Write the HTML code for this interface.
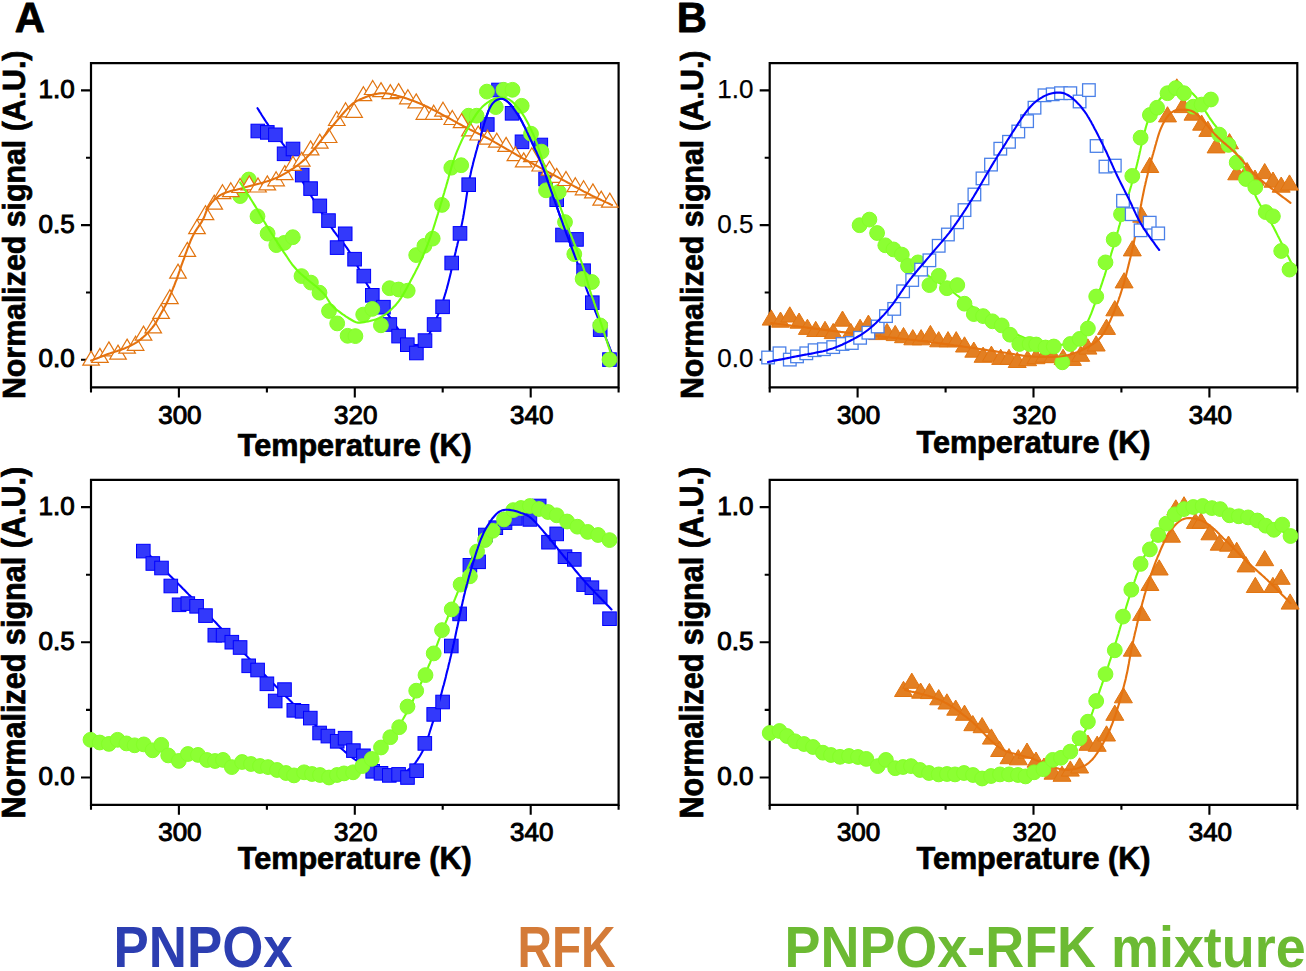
<!DOCTYPE html>
<html><head><meta charset="utf-8"><style>
html,body{margin:0;padding:0;background:#fff;width:1306px;height:971px;overflow:hidden}
svg{display:block}
text{font-family:"Liberation Sans",sans-serif}
.tk{font-size:26px;font-weight:normal;fill:#000;stroke:#000;stroke-width:1.0px}
.xl{font-size:30.6px;font-weight:bold;fill:#000;stroke:#000;stroke-width:0.7px}
.yl{font-size:30.2px;font-weight:bold;fill:#000;stroke:#000;stroke-width:0.7px}
.pl{font-size:41.8px;font-weight:bold;fill:#000;stroke:#000;stroke-width:0.8px}
.lg{font-size:57.5px;font-weight:bold}
</style></head><body>
<svg width="1306" height="971" viewBox="0 0 1306 971"><rect width="1306" height="971" fill="#fff"/><text x="14.8" y="32.2" class="pl" style="stroke-linejoin:round">A</text><text x="676.8" y="32.2" class="pl" style="stroke-linejoin:round">B</text><path d="M91.0,63.2H618.6V387.4H91.0Z" fill="none" stroke="#000" stroke-width="2.2"/><text x="179.9" y="423.7" text-anchor="middle" class="tk">300</text><text x="355.8" y="423.7" text-anchor="middle" class="tk">320</text><text x="531.7" y="423.7" text-anchor="middle" class="tk">340</text><text x="74.7" y="367.4" text-anchor="end" class="tk">0.0</text><text x="74.7" y="232.7" text-anchor="end" class="tk">0.5</text><text x="74.7" y="98.0" text-anchor="end" class="tk">1.0</text><path d="M91.0,387.4V392.4M178.9,387.4V397.4M266.9,387.4V392.4M354.8,387.4V397.4M442.7,387.4V392.4M530.7,387.4V397.4M618.6,387.4V392.4M91.0,359.8H81.0M91.0,292.5H86.0M91.0,225.1H81.0M91.0,157.8H86.0M91.0,90.4H81.0" stroke="#000" stroke-width="2.1" fill="none"/><text x="354.8" y="456.0" text-anchor="middle" class="xl">Temperature (K)</text><text transform="translate(24.7,224.8) rotate(-90) scale(1,1.06)" text-anchor="middle" class="yl" style="font-size:30.3px">Normalized signal (A.U.)</text><path d="M769.7,63.2H1297.3V387.4H769.7Z" fill="none" stroke="#000" stroke-width="2.2"/><text x="858.6" y="423.7" text-anchor="middle" class="tk">300</text><text x="1034.5" y="423.7" text-anchor="middle" class="tk">320</text><text x="1210.4" y="423.7" text-anchor="middle" class="tk">340</text><text x="753.4" y="367.4" text-anchor="end" class="tk" style="stroke-width:0.25px">0.0</text><text x="753.4" y="232.7" text-anchor="end" class="tk" style="stroke-width:0.25px">0.5</text><text x="753.4" y="98.0" text-anchor="end" class="tk" style="stroke-width:0.25px">1.0</text><path d="M769.7,387.4V392.4M857.6,387.4V397.4M945.6,387.4V392.4M1033.5,387.4V397.4M1121.4,387.4V392.4M1209.4,387.4V397.4M1297.3,387.4V392.4M769.7,359.8H759.7M769.7,292.5H764.7M769.7,225.1H759.7M769.7,157.8H764.7M769.7,90.4H759.7" stroke="#000" stroke-width="2.1" fill="none"/><text x="1033.5" y="452.6" text-anchor="middle" class="xl">Temperature (K)</text><text transform="translate(703.4,224.8) rotate(-90) scale(1,1.06)" text-anchor="middle" class="yl" style="font-size:30.3px">Normalized signal (A.U.)</text><path d="M91.0,479.8H618.6V804.8H91.0Z" fill="none" stroke="#000" stroke-width="2.2"/><text x="179.9" y="841.1" text-anchor="middle" class="tk">300</text><text x="355.8" y="841.1" text-anchor="middle" class="tk">320</text><text x="531.7" y="841.1" text-anchor="middle" class="tk">340</text><text x="74.7" y="785.1" text-anchor="end" class="tk">0.0</text><text x="74.7" y="649.9" text-anchor="end" class="tk">0.5</text><text x="74.7" y="514.7" text-anchor="end" class="tk">1.0</text><path d="M91.0,804.8V809.8M178.9,804.8V814.8M266.9,804.8V809.8M354.8,804.8V814.8M442.7,804.8V809.8M530.7,804.8V814.8M618.6,804.8V809.8M91.0,777.5H81.0M91.0,709.9H86.0M91.0,642.3H81.0M91.0,574.7H86.0M91.0,507.1H81.0" stroke="#000" stroke-width="2.1" fill="none"/><text x="354.8" y="868.7" text-anchor="middle" class="xl">Temperature (K)</text><text transform="translate(24.7,642.6) rotate(-90) scale(1,1.06)" text-anchor="middle" class="yl" style="font-size:30.6px">Normalized signal (A.U.)</text><path d="M769.7,479.8H1297.3V804.8H769.7Z" fill="none" stroke="#000" stroke-width="2.2"/><text x="858.6" y="841.1" text-anchor="middle" class="tk">300</text><text x="1034.5" y="841.1" text-anchor="middle" class="tk">320</text><text x="1210.4" y="841.1" text-anchor="middle" class="tk">340</text><text x="753.4" y="785.1" text-anchor="end" class="tk">0.0</text><text x="753.4" y="649.9" text-anchor="end" class="tk">0.5</text><text x="753.4" y="514.7" text-anchor="end" class="tk">1.0</text><path d="M769.7,804.8V809.8M857.6,804.8V814.8M945.6,804.8V809.8M1033.5,804.8V814.8M1121.4,804.8V809.8M1209.4,804.8V814.8M1297.3,804.8V809.8M769.7,777.5H759.7M769.7,709.9H764.7M769.7,642.3H759.7M769.7,574.7H764.7M769.7,507.1H759.7" stroke="#000" stroke-width="2.1" fill="none"/><text x="1033.5" y="869.1" text-anchor="middle" class="xl">Temperature (K)</text><text transform="translate(703.4,642.6) rotate(-90) scale(1,1.06)" text-anchor="middle" class="yl" style="font-size:30.6px">Normalized signal (A.U.)</text><path d="M257.5,108.2 L258.6,109.9 L259.6,111.6 L260.7,113.3 L261.7,115.0 L262.8,116.7 L263.9,118.4 L265.0,120.1 L266.1,121.8 L267.2,123.4 L268.3,125.1 L269.5,126.7 L270.7,128.3 L271.9,129.9 L273.1,131.5 L274.4,133.0 L275.7,134.6 L276.9,136.2 L278.2,137.7 L279.4,139.3 L280.6,140.9 L281.9,142.5 L283.0,144.1 L284.2,145.7 L285.2,147.4 L286.2,149.2 L287.2,150.9 L288.0,152.8 L288.7,154.6 L289.5,156.5 L290.2,158.4 L290.9,160.2 L291.7,162.0 L292.6,163.9 L293.5,165.6 L294.4,167.4 L295.4,169.2 L296.4,170.9 L297.4,172.7 L298.4,174.4 L299.4,176.1 L300.4,177.9 L301.4,179.6 L302.4,181.3 L303.4,183.1 L304.5,184.8 L305.5,186.5 L306.5,188.2 L307.5,189.9 L308.6,191.7 L309.6,193.4 L310.7,195.1 L311.7,196.8 L312.8,198.5 L313.8,200.2 L314.9,201.9 L315.9,203.6 L317.0,205.3 L318.0,207.0 L319.1,208.7 L320.2,210.4 L321.2,212.1 L322.3,213.8 L323.4,215.5 L324.5,217.2 L325.6,218.8 L326.7,220.5 L327.8,222.2 L328.9,223.9 L330.0,225.5 L331.1,227.2 L332.3,228.8 L333.4,230.5 L334.6,232.1 L335.8,233.7 L337.0,235.3 L338.3,236.9 L339.5,238.4 L340.8,240.0 L342.0,241.6 L343.3,243.1 L344.5,244.7 L345.7,246.3 L346.9,247.9 L348.0,249.6 L349.1,251.3 L350.2,253.0 L351.2,254.7 L352.2,256.4 L353.2,258.2 L354.1,259.9 L355.1,261.7 L356.0,263.5 L356.9,265.3 L357.9,267.0 L358.8,268.8 L359.7,270.6 L360.6,272.4 L361.5,274.2 L362.4,276.0 L363.4,277.7 L364.3,279.5 L365.3,281.2 L366.3,283.0 L367.3,284.7 L368.3,286.4 L369.4,288.1 L370.5,289.8 L371.6,291.5 L372.7,293.2 L373.8,294.8 L374.9,296.5 L376.1,298.1 L377.2,299.8 L378.4,301.4 L379.6,303.0 L380.7,304.7 L381.9,306.3 L383.1,307.9 L384.3,309.5 L385.4,311.1 L386.6,312.8 L387.8,314.4 L389.0,316.0 L390.2,317.6 L391.3,319.3 L392.5,320.9 L393.6,322.5 L394.8,324.2 L395.9,325.8 L397.1,327.5 L398.2,329.1 L399.4,330.7 L400.6,332.4 L401.8,334.0 L403.0,335.5 L404.3,337.1 L405.6,338.6 L407.0,340.1 L408.4,341.4 L410.0,342.7 L411.6,343.7 L413.4,344.5 L415.3,345.0 L417.2,345.0 L419.1,344.6 L420.8,343.7 L422.3,342.5 L423.7,341.1 L425.1,339.6 L426.3,338.1 L427.5,336.5 L428.6,334.8 L429.7,333.1 L430.7,331.4 L431.6,329.6 L432.5,327.8 L433.4,326.0 L434.2,324.2 L435.0,322.3 L435.8,320.5 L436.5,318.6 L437.2,316.7 L438.0,314.9 L438.7,313.0 L439.4,311.1 L440.1,309.2 L440.7,307.4 L441.4,305.5 L442.1,303.6 L442.7,301.7 L443.4,299.8 L444.0,297.9 L444.6,296.0 L445.2,294.0 L445.8,292.1 L446.3,290.2 L446.9,288.3 L447.4,286.3 L447.9,284.4 L448.4,282.5 L448.9,280.5 L449.4,278.6 L449.9,276.6 L450.3,274.7 L450.8,272.7 L451.2,270.8 L451.7,268.8 L452.1,266.9 L452.6,264.9 L453.0,263.0 L453.5,261.0 L453.9,259.1 L454.4,257.1 L454.9,255.1 L455.3,253.2 L455.8,251.2 L456.2,249.3 L456.7,247.3 L457.2,245.4 L457.6,243.4 L458.1,241.5 L458.5,239.5 L459.0,237.6 L459.4,235.6 L459.8,233.7 L460.3,231.7 L460.7,229.8 L461.1,227.8 L461.5,225.8 L461.9,223.9 L462.3,221.9 L462.7,219.9 L463.1,218.0 L463.4,216.0 L463.8,214.0 L464.1,212.0 L464.4,210.1 L464.8,208.1 L465.1,206.1 L465.4,204.1 L465.7,202.1 L466.0,200.2 L466.3,198.2 L466.6,196.2 L466.9,194.2 L467.2,192.2 L467.5,190.3 L467.8,188.3 L468.2,186.3 L468.5,184.3 L468.9,182.4 L469.2,180.4 L469.6,178.4 L470.0,176.5 L470.5,174.5 L470.9,172.5 L471.3,170.6 L471.8,168.6 L472.3,166.7 L472.8,164.7 L473.2,162.8 L473.7,160.9 L474.2,158.9 L474.8,157.0 L475.3,155.0 L475.8,153.1 L476.3,151.2 L476.9,149.2 L477.4,147.3 L477.9,145.4 L478.5,143.5 L479.0,141.5 L479.6,139.6 L480.1,137.7 L480.7,135.7 L481.2,133.8 L481.8,131.9 L482.3,130.0 L482.9,128.0 L483.5,126.1 L484.0,124.2 L484.6,122.3 L485.2,120.4 L485.8,118.5 L486.5,116.5 L487.1,114.7 L487.8,112.8 L488.5,110.9 L489.3,109.1 L490.2,107.3 L491.2,105.5 L492.3,103.9 L493.6,102.4 L495.0,101.1 L496.7,100.0 L498.5,99.2 L500.4,98.8 L502.2,98.8 L504.1,99.3 L505.8,100.3 L507.3,101.5 L508.8,102.8 L510.2,104.3 L511.5,105.8 L512.7,107.4 L513.9,109.0 L515.1,110.6 L516.2,112.3 L517.3,113.9 L518.4,115.6 L519.5,117.3 L520.5,119.1 L521.4,120.8 L522.4,122.6 L523.3,124.4 L524.2,126.1 L525.1,127.9 L526.0,129.7 L526.8,131.6 L527.7,133.4 L528.5,135.2 L529.4,137.0 L530.2,138.8 L531.1,140.6 L531.9,142.4 L532.8,144.3 L533.7,146.1 L534.5,147.9 L535.3,149.7 L536.2,151.5 L537.0,153.4 L537.8,155.2 L538.6,157.0 L539.4,158.9 L540.2,160.7 L540.9,162.6 L541.7,164.4 L542.4,166.3 L543.1,168.2 L543.8,170.0 L544.5,171.9 L545.2,173.8 L545.8,175.7 L546.5,177.6 L547.1,179.5 L547.8,181.4 L548.4,183.3 L549.1,185.2 L549.8,187.1 L550.5,189.0 L551.1,190.9 L551.8,192.7 L552.5,194.6 L553.1,196.5 L553.8,198.4 L554.5,200.3 L555.1,202.2 L555.8,204.1 L556.5,206.0 L557.2,207.9 L557.8,209.7 L558.5,211.6 L559.2,213.5 L559.8,215.4 L560.5,217.3 L561.2,219.2 L561.9,221.1 L562.6,223.0 L563.2,224.8 L563.9,226.7 L564.6,228.6 L565.3,230.5 L566.0,232.4 L566.7,234.3 L567.4,236.1 L568.1,238.0 L568.8,239.9 L569.5,241.8 L570.2,243.6 L570.9,245.5 L571.6,247.4 L572.3,249.3 L573.0,251.2 L573.7,253.0 L574.4,254.9 L575.1,256.8 L575.8,258.7 L576.5,260.6 L577.2,262.4 L577.8,264.3 L578.5,266.2 L579.2,268.1 L579.9,270.0 L580.5,271.9 L581.2,273.8 L581.9,275.7 L582.5,277.5 L583.2,279.4 L583.8,281.3 L584.5,283.2 L585.2,285.1 L585.8,287.0 L586.5,288.9 L587.2,290.8 L587.9,292.7 L588.6,294.5 L589.4,296.4 L590.1,298.3 L590.8,300.1 L591.6,302.0 L592.3,303.8 L593.1,305.7 L593.8,307.6 L594.6,309.4 L595.3,311.3 L596.0,313.1 L596.8,315.0 L597.5,316.9 L598.2,318.7 L599.0,320.6 L599.7,322.5 L600.5,324.3 L601.2,326.2 L601.9,328.1 L602.7,329.9 L603.4,331.8 L604.1,333.7 L604.9,335.5 L605.6,337.4 L606.3,339.2 L607.1,341.1 L607.8,343.0 L608.6,344.8 L609.3,346.7 L610.0,348.6 L610.8,350.4 L611.5,352.3 L611.5,352.3" fill="none" stroke="#0000ff" stroke-width="2.1" stroke-linecap="round" stroke-linejoin="round"/><g fill="#3339fb" stroke="#0000ff" stroke-width="1.0"><rect x="251.0" y="124.2" width="13.6" height="13.6"/><rect x="260.5" y="125.6" width="13.6" height="13.6"/><rect x="268.6" y="128.0" width="13.6" height="13.6"/><rect x="277.3" y="147.0" width="13.6" height="13.6"/><rect x="286.2" y="142.2" width="13.6" height="13.6"/><rect x="295.4" y="168.3" width="13.6" height="13.6"/><rect x="303.8" y="181.8" width="13.6" height="13.6"/><rect x="313.0" y="199.1" width="13.6" height="13.6"/><rect x="321.7" y="213.8" width="13.6" height="13.6"/><rect x="330.3" y="240.8" width="13.6" height="13.6"/><rect x="338.4" y="227.0" width="13.6" height="13.6"/><rect x="347.8" y="252.4" width="13.6" height="13.6"/><rect x="357.0" y="269.3" width="13.6" height="13.6"/><rect x="365.5" y="288.5" width="13.6" height="13.6"/><rect x="376.6" y="300.4" width="13.6" height="13.6"/><rect x="383.0" y="317.7" width="13.6" height="13.6"/><rect x="391.8" y="329.3" width="13.6" height="13.6"/><rect x="400.5" y="337.9" width="13.6" height="13.6"/><rect x="409.6" y="346.2" width="13.6" height="13.6"/><rect x="418.2" y="333.8" width="13.6" height="13.6"/><rect x="427.3" y="317.7" width="13.6" height="13.6"/><rect x="435.8" y="300.0" width="13.6" height="13.6"/><rect x="444.9" y="256.2" width="13.6" height="13.6"/><rect x="453.2" y="226.6" width="13.6" height="13.6"/><rect x="461.9" y="177.9" width="13.6" height="13.6"/><rect x="480.5" y="117.7" width="13.6" height="13.6"/><rect x="491.7" y="83.2" width="13.6" height="13.6"/><rect x="505.3" y="106.5" width="13.6" height="13.6"/><rect x="515.2" y="135.0" width="13.6" height="13.6"/><rect x="534.0" y="138.2" width="13.6" height="13.6"/><rect x="538.8" y="172.2" width="13.6" height="13.6"/><rect x="549.9" y="192.9" width="13.6" height="13.6"/><rect x="555.7" y="228.2" width="13.6" height="13.6"/><rect x="569.7" y="232.6" width="13.6" height="13.6"/><rect x="576.8" y="263.9" width="13.6" height="13.6"/><rect x="585.5" y="295.9" width="13.6" height="13.6"/><rect x="593.4" y="322.8" width="13.6" height="13.6"/><rect x="602.7" y="352.8" width="13.6" height="13.6"/></g><g fill="#8cff33" stroke="#84ff28" stroke-width="1"><circle cx="248.8" cy="179.5" r="7.4"/><circle cx="240.2" cy="196.1" r="7.4"/><circle cx="257.5" cy="216.3" r="7.4"/><circle cx="267.6" cy="233.6" r="7.4"/><circle cx="276.3" cy="245.1" r="7.4"/><circle cx="284.2" cy="242.9" r="7.4"/><circle cx="292.8" cy="237.2" r="7.4"/><circle cx="301.5" cy="276.1" r="7.4"/><circle cx="310.9" cy="282.6" r="7.4"/><circle cx="319.5" cy="292.7" r="7.4"/><circle cx="329.0" cy="311.0" r="7.4"/><circle cx="337.2" cy="323.4" r="7.4"/><circle cx="347.6" cy="335.8" r="7.4"/><circle cx="355.4" cy="336.1" r="7.4"/><circle cx="363.2" cy="314.6" r="7.4"/><circle cx="372.3" cy="308.9" r="7.4"/><circle cx="380.9" cy="325.3" r="7.4"/><circle cx="389.6" cy="288.2" r="7.4"/><circle cx="398.6" cy="289.5" r="7.4"/><circle cx="407.7" cy="290.7" r="7.4"/><circle cx="416.2" cy="255.1" r="7.4"/><circle cx="424.4" cy="245.8" r="7.4"/><circle cx="432.7" cy="238.6" r="7.4"/><circle cx="442.0" cy="204.9" r="7.4"/><circle cx="451.3" cy="167.7" r="7.4"/><circle cx="461.2" cy="165.2" r="7.4"/><circle cx="468.6" cy="115.7" r="7.4"/><circle cx="476.6" cy="115.7" r="7.4"/><circle cx="486.9" cy="91.6" r="7.4"/><circle cx="495.8" cy="107.1" r="7.4"/><circle cx="503.5" cy="89.8" r="7.4"/><circle cx="512.5" cy="89.8" r="7.4"/><circle cx="521.7" cy="105.8" r="7.4"/><circle cx="531.0" cy="133.7" r="7.4"/><circle cx="541.5" cy="151.6" r="7.4"/><circle cx="546.0" cy="190.3" r="7.4"/><circle cx="558.8" cy="192.0" r="7.4"/><circle cx="565.0" cy="222.1" r="7.4"/><circle cx="574.3" cy="254.1" r="7.4"/><circle cx="582.6" cy="278.9" r="7.4"/><circle cx="591.9" cy="282.0" r="7.4"/><circle cx="600.2" cy="325.4" r="7.4"/><circle cx="609.5" cy="359.6" r="7.4"/></g><g fill="#fff" stroke="#e2740f" stroke-width="1.2" stroke-linejoin="miter"><path d="M91.1,351.1L99.4,365.1L82.8,365.1Z"/><path d="M99.9,348.4L108.2,362.4L91.6,362.4Z"/><path d="M108.9,341.9L117.2,355.9L100.6,355.9Z"/><path d="M118.0,345.1L126.3,359.1L109.7,359.1Z"/><path d="M127.1,339.1L135.4,353.1L118.8,353.1Z"/><path d="M135.6,336.3L143.9,350.3L127.3,350.3Z"/><path d="M143.5,326.1L151.8,340.1L135.2,340.1Z"/><path d="M153.2,318.9L161.5,332.9L144.9,332.9Z"/><path d="M161.1,304.4L169.4,318.4L152.8,318.4Z"/><path d="M169.9,289.7L178.2,303.7L161.6,303.7Z"/><path d="M178.0,264.1L186.3,278.1L169.7,278.1Z"/><path d="M187.3,242.4L195.6,256.4L179.0,256.4Z"/><path d="M197.0,219.7L205.3,233.7L188.7,233.7Z"/><path d="M205.5,205.7L213.8,219.7L197.2,219.7Z"/><path d="M214.2,195.1L222.5,209.1L205.9,209.1Z"/><path d="M222.5,184.7L230.8,198.7L214.2,198.7Z"/><path d="M230.8,182.7L239.1,196.7L222.5,196.7Z"/><path d="M240.1,178.5L248.4,192.5L231.8,192.5Z"/><path d="M249.3,175.9L257.6,189.9L241.0,189.9Z"/><path d="M258.0,178.0L266.3,192.0L249.7,192.0Z"/><path d="M267.3,175.9L275.6,189.9L259.0,189.9Z"/><path d="M276.1,171.8L284.4,185.8L267.8,185.8Z"/><path d="M284.8,165.6L293.1,179.6L276.5,179.6Z"/><path d="M293.0,156.3L301.3,170.3L284.7,170.3Z"/><path d="M301.8,152.2L310.1,166.2L293.5,166.2Z"/><path d="M310.6,140.9L318.9,154.9L302.3,154.9Z"/><path d="M319.8,134.2L328.1,148.2L311.5,148.2Z"/><path d="M328.6,128.5L336.9,142.5L320.3,142.5Z"/><path d="M336.8,111.5L345.1,125.5L328.5,125.5Z"/><path d="M345.6,102.8L353.9,116.8L337.3,116.8Z"/><path d="M354.1,103.3L362.4,117.3L345.8,117.3Z"/><path d="M363.4,86.7L371.7,100.7L355.1,100.7Z"/><path d="M372.7,80.5L381.0,94.5L364.4,94.5Z"/><path d="M381.0,82.6L389.3,96.6L372.7,96.6Z"/><path d="M390.3,84.6L398.6,98.6L382.0,98.6Z"/><path d="M398.6,83.6L406.9,97.6L390.3,97.6Z"/><path d="M407.9,89.8L416.2,103.8L399.6,103.8Z"/><path d="M416.2,93.9L424.5,107.9L407.9,107.9Z"/><path d="M424.4,105.3L432.7,119.3L416.1,119.3Z"/><path d="M433.7,105.3L442.0,119.3L425.4,119.3Z"/><path d="M443.0,102.2L451.3,116.2L434.7,116.2Z"/><path d="M452.3,110.5L460.6,124.5L444.0,124.5Z"/><path d="M461.6,113.6L469.9,127.6L453.3,127.6Z"/><path d="M469.9,121.9L478.2,135.9L461.6,135.9Z"/><path d="M478.2,126.0L486.5,140.0L469.9,140.0Z"/><path d="M487.5,130.1L495.8,144.1L479.2,144.1Z"/><path d="M496.8,133.2L505.1,147.2L488.5,147.2Z"/><path d="M506.1,137.4L514.4,151.4L497.8,151.4Z"/><path d="M515.4,146.7L523.7,160.7L507.1,160.7Z"/><path d="M523.7,152.9L532.0,166.9L515.4,166.9Z"/><path d="M531.9,147.7L540.2,161.7L523.6,161.7Z"/><path d="M540.2,157.0L548.5,171.0L531.9,171.0Z"/><path d="M549.5,161.1L557.8,175.1L541.2,175.1Z"/><path d="M556.7,168.4L565.0,182.4L548.4,182.4Z"/><path d="M566.0,171.5L574.3,185.5L557.7,185.5Z"/><path d="M575.3,177.7L583.6,191.7L567.0,191.7Z"/><path d="M583.6,180.8L591.9,194.8L575.3,194.8Z"/><path d="M592.9,183.9L601.2,197.9L584.6,197.9Z"/><path d="M601.2,191.1L609.5,205.1L592.9,205.1Z"/><path d="M609.8,193.1L618.1,207.1L601.5,207.1Z"/></g><path d="M91.1,360.6 L93.0,359.9 L94.8,359.1 L96.7,358.4 L98.6,357.7 L100.4,356.9 L102.3,356.2 L104.2,355.5 L106.0,354.8 L107.9,354.1 L109.8,353.4 L111.7,352.8 L113.6,352.2 L115.5,351.6 L117.4,351.0 L119.3,350.3 L121.2,349.7 L123.1,348.9 L124.9,348.2 L126.8,347.4 L128.6,346.6 L130.4,345.7 L132.2,344.8 L134.0,343.9 L135.7,342.9 L137.4,341.8 L139.0,340.6 L140.6,339.4 L142.1,338.1 L143.6,336.8 L145.1,335.4 L146.5,334.0 L147.9,332.6 L149.3,331.1 L150.6,329.6 L151.9,328.1 L153.2,326.5 L154.4,324.9 L155.5,323.3 L156.5,321.6 L157.5,319.8 L158.5,318.1 L159.5,316.3 L160.4,314.6 L161.4,312.8 L162.4,311.1 L163.3,309.3 L164.3,307.6 L165.3,305.8 L166.2,304.0 L167.1,302.2 L168.0,300.4 L168.8,298.6 L169.6,296.8 L170.4,294.9 L171.2,293.1 L171.9,291.2 L172.7,289.4 L173.4,287.5 L174.2,285.7 L174.9,283.8 L175.6,281.9 L176.4,280.1 L177.1,278.2 L177.7,276.3 L178.4,274.4 L179.0,272.5 L179.7,270.6 L180.3,268.7 L181.0,266.8 L181.6,264.9 L182.3,263.1 L183.0,261.2 L183.7,259.3 L184.4,257.4 L185.0,255.5 L185.7,253.6 L186.4,251.8 L187.1,249.9 L187.8,248.0 L188.5,246.1 L189.2,244.3 L190.0,242.4 L190.7,240.5 L191.5,238.7 L192.4,236.9 L193.3,235.1 L194.2,233.3 L195.2,231.6 L196.3,229.9 L197.4,228.2 L198.5,226.6 L199.6,224.9 L200.8,223.3 L201.8,221.6 L202.8,219.8 L203.7,218.0 L204.5,216.2 L205.2,214.3 L205.9,212.4 L206.6,210.6 L207.5,208.8 L208.5,207.0 L209.6,205.4 L210.8,203.8 L212.0,202.2 L213.4,200.8 L214.8,199.3 L216.3,198.0 L217.9,196.8 L219.5,195.6 L221.2,194.6 L223.0,193.7 L224.8,193.0 L226.7,192.3 L228.6,191.7 L230.6,191.1 L232.5,190.6 L234.4,190.1 L236.4,189.7 L238.3,189.2 L240.3,188.7 L242.2,188.2 L244.1,187.6 L246.1,187.1 L248.0,186.6 L249.9,186.1 L251.9,185.6 L253.8,185.1 L255.7,184.5 L257.7,184.0 L259.6,183.5 L261.5,183.0 L263.5,182.4 L265.4,181.8 L267.3,181.3 L269.2,180.7 L271.1,180.0 L273.0,179.3 L274.8,178.6 L276.7,177.8 L278.5,176.9 L280.3,176.0 L282.0,175.1 L283.8,174.1 L285.6,173.1 L287.3,172.1 L289.0,171.1 L290.7,170.0 L292.4,169.0 L294.0,167.8 L295.7,166.7 L297.3,165.5 L298.9,164.3 L300.5,163.0 L302.0,161.7 L303.5,160.4 L305.0,159.1 L306.4,157.7 L307.8,156.3 L309.2,154.8 L310.6,153.3 L311.9,151.8 L313.2,150.3 L314.5,148.8 L315.7,147.2 L317.0,145.6 L318.2,144.0 L319.4,142.5 L320.6,140.9 L321.9,139.3 L323.1,137.7 L324.3,136.1 L325.6,134.6 L326.8,133.0 L328.1,131.4 L329.3,129.9 L330.6,128.3 L331.9,126.8 L333.2,125.3 L334.4,123.7 L335.7,122.2 L337.0,120.6 L338.3,119.1 L339.6,117.6 L340.9,116.0 L342.2,114.5 L343.5,113.0 L344.8,111.5 L346.2,110.0 L347.5,108.5 L348.9,107.1 L350.4,105.7 L351.9,104.4 L353.4,103.1 L355.0,102.0 L356.7,100.9 L358.5,100.1 L360.4,99.2 L362.2,98.5 L364.1,97.7 L365.9,97.0 L367.8,96.3 L369.7,95.7 L371.6,95.1 L373.6,94.5 L375.5,94.1 L377.5,93.7 L379.4,93.4 L381.4,93.3 L383.4,93.3 L385.4,93.3 L387.4,93.5 L389.4,93.8 L391.4,94.2 L393.3,94.7 L395.3,95.1 L397.2,95.7 L399.1,96.2 L401.0,96.7 L403.0,97.3 L404.9,97.9 L406.8,98.6 L408.7,99.2 L410.5,99.9 L412.4,100.6 L414.3,101.3 L416.2,102.0 L418.0,102.8 L419.9,103.5 L421.7,104.3 L423.6,105.1 L425.4,106.0 L427.2,106.8 L429.0,107.7 L430.8,108.6 L432.6,109.5 L434.3,110.4 L436.1,111.3 L437.9,112.3 L439.7,113.2 L441.4,114.2 L443.2,115.1 L445.0,116.1 L446.7,117.0 L448.5,118.0 L450.2,118.9 L452.0,119.9 L453.7,120.9 L455.5,121.8 L457.3,122.8 L459.0,123.8 L460.8,124.7 L462.5,125.7 L464.3,126.6 L466.1,127.5 L467.9,128.4 L469.7,129.4 L471.4,130.2 L473.2,131.1 L475.0,132.0 L476.8,132.9 L478.6,133.8 L480.4,134.6 L482.2,135.5 L484.0,136.4 L485.8,137.3 L487.6,138.2 L489.4,139.2 L491.1,140.1 L492.9,141.1 L494.6,142.1 L496.4,143.1 L498.1,144.1 L499.8,145.1 L501.6,146.1 L503.3,147.1 L505.0,148.1 L506.7,149.2 L508.5,150.2 L510.2,151.2 L511.9,152.2 L513.7,153.2 L515.4,154.2 L517.1,155.2 L518.9,156.1 L520.7,157.1 L522.4,158.1 L524.2,159.0 L525.9,160.0 L527.7,160.9 L529.5,161.9 L531.2,162.9 L533.0,163.8 L534.7,164.8 L536.5,165.7 L538.3,166.7 L540.0,167.6 L541.8,168.6 L543.6,169.5 L545.3,170.5 L547.1,171.4 L548.8,172.4 L550.6,173.3 L552.4,174.3 L554.1,175.2 L555.9,176.2 L557.7,177.1 L559.4,178.1 L561.2,179.0 L562.9,180.0 L564.7,180.9 L566.5,181.9 L568.2,182.9 L570.0,183.8 L571.7,184.8 L573.5,185.8 L575.2,186.8 L577.0,187.7 L578.7,188.7 L580.5,189.7 L582.2,190.6 L584.0,191.6 L585.8,192.5 L587.6,193.4 L589.4,194.3 L591.1,195.2 L592.9,196.1 L594.8,197.0 L596.6,197.8 L598.4,198.7 L600.2,199.5 L602.0,200.4 L603.8,201.2 L605.6,202.1 L607.5,202.9 L609.3,203.7 L611.1,204.6 L612.0,205.0" fill="none" stroke="#e4720f" stroke-width="2.1" stroke-linecap="round" stroke-linejoin="round"/><path d="M240.2,182.4 L241.3,184.1 L242.3,185.8 L243.4,187.5 L244.5,189.2 L245.6,190.9 L246.6,192.5 L247.7,194.2 L248.8,195.9 L249.9,197.6 L250.9,199.3 L252.0,201.0 L253.1,202.7 L254.1,204.4 L255.2,206.1 L256.2,207.8 L257.3,209.5 L258.3,211.3 L259.3,213.0 L260.3,214.8 L261.2,216.5 L262.2,218.2 L263.2,220.0 L264.3,221.7 L265.3,223.4 L266.3,225.1 L267.4,226.8 L268.5,228.5 L269.5,230.2 L270.6,231.9 L271.7,233.6 L272.8,235.3 L273.8,237.0 L274.9,238.7 L276.0,240.3 L277.1,242.0 L278.2,243.7 L279.3,245.4 L280.4,247.1 L281.5,248.7 L282.6,250.4 L283.7,252.1 L284.8,253.7 L286.0,255.4 L287.1,257.0 L288.2,258.7 L289.3,260.4 L290.4,262.0 L291.6,263.7 L292.8,265.3 L294.1,266.8 L295.4,268.3 L296.7,269.8 L298.1,271.3 L299.6,272.7 L301.0,274.0 L302.5,275.3 L304.0,276.6 L305.6,277.9 L307.1,279.2 L308.7,280.5 L310.2,281.7 L311.8,283.0 L313.3,284.3 L314.9,285.5 L316.4,286.8 L318.0,288.1 L319.5,289.4 L320.9,290.8 L322.4,292.2 L323.7,293.6 L325.0,295.2 L326.2,296.8 L327.2,298.5 L328.3,300.2 L329.3,301.9 L330.4,303.6 L331.7,305.1 L333.0,306.6 L334.5,308.0 L336.0,309.3 L337.6,310.5 L339.2,311.7 L340.8,312.9 L342.4,314.1 L344.1,315.2 L345.7,316.3 L347.4,317.4 L349.1,318.5 L350.8,319.5 L352.5,320.5 L354.3,321.5 L356.1,322.2 L358.0,322.6 L360.0,322.6 L361.9,322.4 L363.9,322.1 L365.9,321.7 L367.9,321.4 L369.8,321.0 L371.8,320.5 L373.7,320.0 L375.6,319.4 L377.5,318.7 L379.3,317.9 L381.1,317.0 L382.8,316.0 L384.5,314.9 L386.1,313.8 L387.7,312.5 L389.2,311.2 L390.7,309.9 L392.2,308.5 L393.6,307.1 L395.0,305.7 L396.3,304.2 L397.6,302.6 L398.8,301.1 L400.0,299.4 L401.1,297.8 L402.2,296.1 L403.2,294.4 L404.2,292.6 L405.2,290.9 L406.2,289.1 L407.1,287.4 L408.1,285.6 L409.0,283.8 L410.0,282.1 L410.9,280.3 L411.9,278.5 L412.8,276.8 L413.7,275.0 L414.7,273.2 L415.6,271.4 L416.5,269.6 L417.4,267.9 L418.3,266.1 L419.1,264.3 L420.0,262.4 L420.8,260.6 L421.7,258.8 L422.5,257.0 L423.3,255.1 L424.1,253.3 L424.9,251.4 L425.6,249.6 L426.4,247.7 L427.1,245.9 L427.8,244.0 L428.5,242.1 L429.2,240.2 L429.9,238.4 L430.6,236.5 L431.2,234.6 L431.9,232.7 L432.5,230.8 L433.2,228.9 L433.8,227.0 L434.4,225.1 L435.0,223.2 L435.6,221.3 L436.2,219.3 L436.8,217.4 L437.4,215.5 L438.0,213.6 L438.5,211.7 L439.1,209.8 L439.7,207.8 L440.3,205.9 L440.8,204.0 L441.4,202.1 L442.0,200.2 L442.5,198.2 L443.1,196.3 L443.7,194.4 L444.3,192.5 L444.8,190.5 L445.4,188.6 L446.0,186.7 L446.5,184.8 L447.1,182.9 L447.6,180.9 L448.2,179.0 L448.7,177.1 L449.2,175.1 L449.8,173.2 L450.3,171.3 L450.9,169.4 L451.4,167.4 L452.0,165.5 L452.6,163.6 L453.2,161.7 L453.9,159.8 L454.5,157.9 L455.2,156.0 L455.9,154.1 L456.6,152.3 L457.4,150.4 L458.2,148.6 L459.0,146.7 L459.8,144.9 L460.6,143.1 L461.4,141.3 L462.3,139.4 L463.2,137.6 L464.1,135.8 L465.0,134.1 L465.9,132.3 L466.8,130.5 L467.7,128.7 L468.7,126.9 L469.6,125.2 L470.6,123.4 L471.6,121.7 L472.6,120.0 L473.6,118.3 L474.7,116.6 L475.8,114.9 L477.0,113.2 L478.2,111.6 L479.4,110.1 L480.7,108.6 L482.1,107.1 L483.5,105.7 L485.1,104.4 L486.6,103.2 L488.3,102.1 L490.0,101.0 L491.7,100.0 L493.5,99.2 L495.4,98.6 L497.3,98.1 L499.3,97.9 L501.3,97.8 L503.3,97.9 L505.3,98.1 L507.2,98.6 L509.0,99.4 L510.6,100.5 L512.2,101.7 L513.7,103.1 L515.1,104.5 L516.4,106.0 L517.8,107.5 L519.0,109.0 L520.3,110.6 L521.4,112.2 L522.5,113.9 L523.6,115.6 L524.7,117.3 L525.6,119.0 L526.6,120.8 L527.6,122.6 L528.5,124.3 L529.4,126.1 L530.2,127.9 L531.1,129.7 L531.9,131.6 L532.8,133.4 L533.6,135.2 L534.4,137.1 L535.1,138.9 L535.9,140.8 L536.6,142.6 L537.3,144.5 L538.0,146.4 L538.6,148.3 L539.2,150.2 L539.8,152.1 L540.4,154.0 L541.0,155.9 L541.6,157.9 L542.2,159.8 L542.9,161.7 L543.5,163.6 L544.2,165.4 L544.9,167.3 L545.6,169.2 L546.3,171.1 L547.1,172.9 L547.8,174.8 L548.6,176.6 L549.3,178.5 L550.1,180.4 L550.8,182.2 L551.6,184.1 L552.3,185.9 L553.0,187.8 L553.7,189.7 L554.4,191.6 L555.1,193.4 L555.8,195.3 L556.5,197.2 L557.3,199.1 L558.0,200.9 L558.7,202.8 L559.4,204.7 L560.1,206.6 L560.8,208.4 L561.5,210.3 L562.2,212.2 L562.9,214.1 L563.6,215.9 L564.3,217.8 L565.0,219.7 L565.7,221.6 L566.4,223.4 L567.2,225.3 L567.9,227.2 L568.6,229.1 L569.3,230.9 L570.0,232.8 L570.8,234.7 L571.5,236.5 L572.2,238.4 L573.0,240.2 L573.7,242.1 L574.4,244.0 L575.2,245.8 L575.9,247.7 L576.7,249.6 L577.4,251.4 L578.1,253.3 L578.8,255.2 L579.6,257.0 L580.3,258.9 L581.0,260.8 L581.7,262.7 L582.3,264.6 L583.0,266.5 L583.6,268.4 L584.2,270.3 L584.8,272.2 L585.4,274.1 L585.9,276.0 L586.5,278.0 L587.0,279.9 L587.5,281.8 L588.0,283.8 L588.6,285.7 L589.1,287.6 L589.7,289.5 L590.3,291.5 L590.9,293.4 L591.6,295.3 L592.2,297.1 L592.9,299.0 L593.6,300.9 L594.2,302.8 L594.9,304.7 L595.5,306.6 L596.2,308.5 L596.8,310.4 L597.4,312.3 L598.0,314.2 L598.7,316.1 L599.3,318.0 L599.9,319.9 L600.5,321.8 L601.2,323.7 L601.8,325.6 L602.4,327.5 L603.0,329.4 L603.7,331.3 L604.3,333.3 L604.9,335.2 L605.5,337.1 L606.1,339.0 L606.8,340.9 L607.4,342.8 L608.0,344.7 L608.6,346.6 L609.3,348.5 L609.9,350.4 L610.5,352.3 L610.5,352.3" fill="none" stroke="#70ff10" stroke-width="2.1" stroke-linecap="round" stroke-linejoin="round"/><clipPath id="cTL"><rect x="480" y="60" width="140" height="200"/></clipPath><g clip-path="url(#cTL)"><path d="M257.5,108.2 L258.6,109.9 L259.6,111.6 L260.7,113.3 L261.7,115.0 L262.8,116.7 L263.9,118.4 L265.0,120.1 L266.1,121.8 L267.2,123.4 L268.3,125.1 L269.5,126.7 L270.7,128.3 L271.9,129.9 L273.1,131.5 L274.4,133.0 L275.7,134.6 L276.9,136.2 L278.2,137.7 L279.4,139.3 L280.6,140.9 L281.9,142.5 L283.0,144.1 L284.2,145.7 L285.2,147.4 L286.2,149.2 L287.2,150.9 L288.0,152.8 L288.7,154.6 L289.5,156.5 L290.2,158.4 L290.9,160.2 L291.7,162.0 L292.6,163.9 L293.5,165.6 L294.4,167.4 L295.4,169.2 L296.4,170.9 L297.4,172.7 L298.4,174.4 L299.4,176.1 L300.4,177.9 L301.4,179.6 L302.4,181.3 L303.4,183.1 L304.5,184.8 L305.5,186.5 L306.5,188.2 L307.5,189.9 L308.6,191.7 L309.6,193.4 L310.7,195.1 L311.7,196.8 L312.8,198.5 L313.8,200.2 L314.9,201.9 L315.9,203.6 L317.0,205.3 L318.0,207.0 L319.1,208.7 L320.2,210.4 L321.2,212.1 L322.3,213.8 L323.4,215.5 L324.5,217.2 L325.6,218.8 L326.7,220.5 L327.8,222.2 L328.9,223.9 L330.0,225.5 L331.1,227.2 L332.3,228.8 L333.4,230.5 L334.6,232.1 L335.8,233.7 L337.0,235.3 L338.3,236.9 L339.5,238.4 L340.8,240.0 L342.0,241.6 L343.3,243.1 L344.5,244.7 L345.7,246.3 L346.9,247.9 L348.0,249.6 L349.1,251.3 L350.2,253.0 L351.2,254.7 L352.2,256.4 L353.2,258.2 L354.1,259.9 L355.1,261.7 L356.0,263.5 L356.9,265.3 L357.9,267.0 L358.8,268.8 L359.7,270.6 L360.6,272.4 L361.5,274.2 L362.4,276.0 L363.4,277.7 L364.3,279.5 L365.3,281.2 L366.3,283.0 L367.3,284.7 L368.3,286.4 L369.4,288.1 L370.5,289.8 L371.6,291.5 L372.7,293.2 L373.8,294.8 L374.9,296.5 L376.1,298.1 L377.2,299.8 L378.4,301.4 L379.6,303.0 L380.7,304.7 L381.9,306.3 L383.1,307.9 L384.3,309.5 L385.4,311.1 L386.6,312.8 L387.8,314.4 L389.0,316.0 L390.2,317.6 L391.3,319.3 L392.5,320.9 L393.6,322.5 L394.8,324.2 L395.9,325.8 L397.1,327.5 L398.2,329.1 L399.4,330.7 L400.6,332.4 L401.8,334.0 L403.0,335.5 L404.3,337.1 L405.6,338.6 L407.0,340.1 L408.4,341.4 L410.0,342.7 L411.6,343.7 L413.4,344.5 L415.3,345.0 L417.2,345.0 L419.1,344.6 L420.8,343.7 L422.3,342.5 L423.7,341.1 L425.1,339.6 L426.3,338.1 L427.5,336.5 L428.6,334.8 L429.7,333.1 L430.7,331.4 L431.6,329.6 L432.5,327.8 L433.4,326.0 L434.2,324.2 L435.0,322.3 L435.8,320.5 L436.5,318.6 L437.2,316.7 L438.0,314.9 L438.7,313.0 L439.4,311.1 L440.1,309.2 L440.7,307.4 L441.4,305.5 L442.1,303.6 L442.7,301.7 L443.4,299.8 L444.0,297.9 L444.6,296.0 L445.2,294.0 L445.8,292.1 L446.3,290.2 L446.9,288.3 L447.4,286.3 L447.9,284.4 L448.4,282.5 L448.9,280.5 L449.4,278.6 L449.9,276.6 L450.3,274.7 L450.8,272.7 L451.2,270.8 L451.7,268.8 L452.1,266.9 L452.6,264.9 L453.0,263.0 L453.5,261.0 L453.9,259.1 L454.4,257.1 L454.9,255.1 L455.3,253.2 L455.8,251.2 L456.2,249.3 L456.7,247.3 L457.2,245.4 L457.6,243.4 L458.1,241.5 L458.5,239.5 L459.0,237.6 L459.4,235.6 L459.8,233.7 L460.3,231.7 L460.7,229.8 L461.1,227.8 L461.5,225.8 L461.9,223.9 L462.3,221.9 L462.7,219.9 L463.1,218.0 L463.4,216.0 L463.8,214.0 L464.1,212.0 L464.4,210.1 L464.8,208.1 L465.1,206.1 L465.4,204.1 L465.7,202.1 L466.0,200.2 L466.3,198.2 L466.6,196.2 L466.9,194.2 L467.2,192.2 L467.5,190.3 L467.8,188.3 L468.2,186.3 L468.5,184.3 L468.9,182.4 L469.2,180.4 L469.6,178.4 L470.0,176.5 L470.5,174.5 L470.9,172.5 L471.3,170.6 L471.8,168.6 L472.3,166.7 L472.8,164.7 L473.2,162.8 L473.7,160.9 L474.2,158.9 L474.8,157.0 L475.3,155.0 L475.8,153.1 L476.3,151.2 L476.9,149.2 L477.4,147.3 L477.9,145.4 L478.5,143.5 L479.0,141.5 L479.6,139.6 L480.1,137.7 L480.7,135.7 L481.2,133.8 L481.8,131.9 L482.3,130.0 L482.9,128.0 L483.5,126.1 L484.0,124.2 L484.6,122.3 L485.2,120.4 L485.8,118.5 L486.5,116.5 L487.1,114.7 L487.8,112.8 L488.5,110.9 L489.3,109.1 L490.2,107.3 L491.2,105.5 L492.3,103.9 L493.6,102.4 L495.0,101.1 L496.7,100.0 L498.5,99.2 L500.4,98.8 L502.2,98.8 L504.1,99.3 L505.8,100.3 L507.3,101.5 L508.8,102.8 L510.2,104.3 L511.5,105.8 L512.7,107.4 L513.9,109.0 L515.1,110.6 L516.2,112.3 L517.3,113.9 L518.4,115.6 L519.5,117.3 L520.5,119.1 L521.4,120.8 L522.4,122.6 L523.3,124.4 L524.2,126.1 L525.1,127.9 L526.0,129.7 L526.8,131.6 L527.7,133.4 L528.5,135.2 L529.4,137.0 L530.2,138.8 L531.1,140.6 L531.9,142.4 L532.8,144.3 L533.7,146.1 L534.5,147.9 L535.3,149.7 L536.2,151.5 L537.0,153.4 L537.8,155.2 L538.6,157.0 L539.4,158.9 L540.2,160.7 L540.9,162.6 L541.7,164.4 L542.4,166.3 L543.1,168.2 L543.8,170.0 L544.5,171.9 L545.2,173.8 L545.8,175.7 L546.5,177.6 L547.1,179.5 L547.8,181.4 L548.4,183.3 L549.1,185.2 L549.8,187.1 L550.5,189.0 L551.1,190.9 L551.8,192.7 L552.5,194.6 L553.1,196.5 L553.8,198.4 L554.5,200.3 L555.1,202.2 L555.8,204.1 L556.5,206.0 L557.2,207.9 L557.8,209.7 L558.5,211.6 L559.2,213.5 L559.8,215.4 L560.5,217.3 L561.2,219.2 L561.9,221.1 L562.6,223.0 L563.2,224.8 L563.9,226.7 L564.6,228.6 L565.3,230.5 L566.0,232.4 L566.7,234.3 L567.4,236.1 L568.1,238.0 L568.8,239.9 L569.5,241.8 L570.2,243.6 L570.9,245.5 L571.6,247.4 L572.3,249.3 L573.0,251.2 L573.7,253.0 L574.4,254.9 L575.1,256.8 L575.8,258.7 L576.5,260.6 L577.2,262.4 L577.8,264.3 L578.5,266.2 L579.2,268.1 L579.9,270.0 L580.5,271.9 L581.2,273.8 L581.9,275.7 L582.5,277.5 L583.2,279.4 L583.8,281.3 L584.5,283.2 L585.2,285.1 L585.8,287.0 L586.5,288.9 L587.2,290.8 L587.9,292.7 L588.6,294.5 L589.4,296.4 L590.1,298.3 L590.8,300.1 L591.6,302.0 L592.3,303.8 L593.1,305.7 L593.8,307.6 L594.6,309.4 L595.3,311.3 L596.0,313.1 L596.8,315.0 L597.5,316.9 L598.2,318.7 L599.0,320.6 L599.7,322.5 L600.5,324.3 L601.2,326.2 L601.9,328.1 L602.7,329.9 L603.4,331.8 L604.1,333.7 L604.9,335.5 L605.6,337.4 L606.3,339.2 L607.1,341.1 L607.8,343.0 L608.6,344.8 L609.3,346.7 L610.0,348.6 L610.8,350.4 L611.5,352.3 L611.5,352.3" fill="none" stroke="#0000ff" stroke-width="2.1" stroke-linecap="round" stroke-linejoin="round"/></g><g fill="#e37f22" stroke="#e2740f" stroke-width="1"><path d="M771.2,309.9L780.2,325.1L762.2,325.1Z"/><path d="M780.5,312.0L789.5,327.2L771.5,327.2Z"/><path d="M789.8,306.8L798.8,322.0L780.8,322.0Z"/><path d="M799.1,313.0L808.1,328.2L790.1,328.2Z"/><path d="M807.4,319.2L816.4,334.4L798.4,334.4Z"/><path d="M815.7,321.3L824.7,336.5L806.7,336.5Z"/><path d="M825.0,321.3L834.0,336.5L816.0,336.5Z"/><path d="M833.2,323.4L842.2,338.6L824.2,338.6Z"/><path d="M842.5,311.0L851.5,326.2L833.5,326.2Z"/><path d="M850.8,323.4L859.8,338.6L841.8,338.6Z"/><path d="M860.1,319.2L869.1,334.4L851.1,334.4Z"/><path d="M868.4,315.1L877.4,330.3L859.4,330.3Z"/><path d="M877.7,324.4L886.7,339.6L868.7,339.6Z"/><path d="M887.0,323.4L896.0,338.6L878.0,338.6Z"/><path d="M895.2,325.4L904.2,340.6L886.2,340.6Z"/><path d="M903.5,327.5L912.5,342.7L894.5,342.7Z"/><path d="M912.8,329.6L921.8,344.8L903.8,344.8Z"/><path d="M921.1,329.6L930.1,344.8L912.1,344.8Z"/><path d="M930.4,325.4L939.4,340.6L921.4,340.6Z"/><path d="M938.7,331.6L947.7,346.8L929.7,346.8Z"/><path d="M948.0,331.6L957.0,346.8L939.0,346.8Z"/><path d="M956.2,331.6L965.2,346.8L947.2,346.8Z"/><path d="M964.5,336.8L973.5,352.0L955.5,352.0Z"/><path d="M973.8,342.0L982.8,357.2L964.8,357.2Z"/><path d="M983.1,347.1L992.1,362.3L974.1,362.3Z"/><path d="M991.4,346.1L1000.4,361.3L982.4,361.3Z"/><path d="M1000.7,349.2L1009.7,364.4L991.7,364.4Z"/><path d="M1009.0,349.2L1018.0,364.4L1000.0,364.4Z"/><path d="M1017.2,352.3L1026.2,367.5L1008.2,367.5Z"/><path d="M1027.6,350.5L1036.6,365.7L1018.6,365.7Z"/><path d="M1036.0,348.5L1045.0,363.7L1027.0,363.7Z"/><path d="M1044.5,347.0L1053.5,362.2L1035.5,362.2Z"/><path d="M1053.0,347.5L1062.0,362.7L1044.0,362.7Z"/><path d="M1063.1,349.2L1072.1,364.4L1054.1,364.4Z"/><path d="M1072.4,350.2L1081.4,365.4L1063.4,365.4Z"/><path d="M1080.7,346.1L1089.7,361.3L1071.7,361.3Z"/><path d="M1087.9,338.9L1096.9,354.1L1078.9,354.1Z"/><path d="M1096.2,335.8L1105.2,351.0L1087.2,351.0Z"/><path d="M1106.5,319.2L1115.5,334.4L1097.5,334.4Z"/><path d="M1114.8,300.6L1123.8,315.8L1105.8,315.8Z"/><path d="M1124.1,272.7L1133.1,287.9L1115.1,287.9Z"/><path d="M1132.3,240.7L1141.3,255.9L1123.3,255.9Z"/><path d="M1141.7,207.0L1150.7,222.2L1132.7,222.2Z"/><path d="M1149.8,157.3L1158.8,172.5L1140.8,172.5Z"/><path d="M1167.5,106.7L1176.5,121.9L1158.5,121.9Z"/><path d="M1176.8,78.8L1185.8,94.0L1167.8,94.0Z"/><path d="M1183.0,97.4L1192.0,112.6L1174.0,112.6Z"/><path d="M1193.0,105.0L1202.0,120.2L1184.0,120.2Z"/><path d="M1201.6,115.0L1210.6,130.2L1192.6,130.2Z"/><path d="M1207.8,121.2L1216.8,136.4L1198.8,136.4Z"/><path d="M1216.1,137.7L1225.1,152.9L1207.1,152.9Z"/><path d="M1229.5,133.6L1238.5,148.8L1220.5,148.8Z"/><path d="M1236.7,164.6L1245.7,179.8L1227.7,179.8Z"/><path d="M1247.1,162.5L1256.1,177.7L1238.1,177.7Z"/><path d="M1255.0,170.0L1264.0,185.2L1246.0,185.2Z"/><path d="M1264.7,163.5L1273.7,178.7L1255.7,178.7Z"/><path d="M1273.0,172.0L1282.0,187.2L1264.0,187.2Z"/><path d="M1281.2,177.0L1290.2,192.2L1272.2,192.2Z"/><path d="M1289.5,174.9L1298.5,190.1L1280.5,190.1Z"/></g><path d="M872.0,230.0 L873.3,231.6 L874.5,233.1 L875.8,234.7 L877.0,236.2 L878.3,237.8 L879.6,239.3 L880.9,240.8 L882.3,242.3 L883.7,243.7 L885.2,245.0 L886.8,246.3 L888.4,247.4 L890.1,248.4 L891.9,249.4 L893.6,250.3 L895.4,251.3 L897.2,252.3 L898.9,253.3 L900.5,254.4 L902.1,255.6 L903.7,256.9 L905.2,258.2 L906.8,259.4 L908.3,260.7 L909.8,262.0 L911.4,263.3 L912.9,264.6 L914.5,265.8 L916.1,267.1 L917.7,268.3 L919.3,269.5 L920.9,270.6 L922.5,271.8 L924.2,273.0 L925.8,274.1 L927.5,275.2 L929.1,276.3 L930.8,277.5 L932.5,278.6 L934.2,279.6 L935.9,280.7 L937.5,281.8 L939.2,282.9 L940.9,284.0 L942.6,285.1 L944.3,286.2 L945.9,287.3 L947.6,288.4 L949.3,289.5 L950.9,290.7 L952.5,291.8 L954.1,293.0 L955.7,294.2 L957.3,295.5 L958.9,296.7 L960.5,297.9 L962.1,299.1 L963.7,300.4 L965.3,301.6 L966.9,302.8 L968.5,303.9 L970.1,305.1 L971.8,306.2 L973.4,307.4 L975.1,308.5 L976.7,309.7 L978.3,310.8 L980.0,312.0 L981.6,313.1 L983.3,314.3 L984.9,315.4 L986.6,316.5 L988.3,317.6 L990.0,318.7 L991.6,319.8 L993.3,320.9 L995.0,322.0 L996.7,323.0 L998.4,324.1 L1000.2,325.1 L1001.9,326.1 L1003.6,327.1 L1005.4,328.1 L1007.1,329.1 L1008.8,330.1 L1010.6,331.1 L1012.3,332.0 L1014.1,333.0 L1015.9,333.9 L1017.7,334.8 L1019.5,335.7 L1021.3,336.5 L1023.1,337.3 L1025.0,338.1 L1026.8,338.8 L1028.7,339.5 L1030.6,340.2 L1032.5,340.7 L1034.5,341.3 L1036.4,341.8 L1038.4,342.3 L1040.3,342.7 L1042.3,343.1 L1044.2,343.4 L1046.2,343.7 L1048.2,344.0 L1050.2,344.3 L1052.2,344.5 L1054.2,344.7 L1056.2,344.8 L1058.2,344.9 L1060.2,344.9 L1062.2,344.7 L1064.1,344.4 L1065.9,343.7 L1067.6,342.7 L1069.2,341.6 L1070.8,340.3 L1072.4,339.1 L1074.0,337.9 L1075.6,336.7 L1077.2,335.5 L1078.7,334.2 L1080.2,332.8 L1081.5,331.4 L1082.8,329.8 L1084.0,328.2 L1085.1,326.5 L1086.1,324.8 L1087.0,323.0 L1087.9,321.2 L1088.7,319.4 L1089.5,317.6 L1090.3,315.7 L1091.1,313.9 L1091.8,312.0 L1092.5,310.1 L1093.2,308.2 L1093.9,306.4 L1094.6,304.5 L1095.3,302.6 L1095.9,300.7 L1096.6,298.8 L1097.3,296.9 L1097.9,295.0 L1098.6,293.1 L1099.2,291.2 L1099.9,289.4 L1100.6,287.5 L1101.2,285.6 L1101.9,283.7 L1102.5,281.8 L1103.1,279.9 L1103.7,278.0 L1104.4,276.1 L1105.0,274.1 L1105.6,272.2 L1106.2,270.3 L1106.8,268.4 L1107.4,266.5 L1107.9,264.6 L1108.5,262.7 L1109.1,260.7 L1109.7,258.8 L1110.3,256.9 L1110.9,255.0 L1111.4,253.1 L1112.0,251.2 L1112.6,249.2 L1113.2,247.3 L1113.7,245.4 L1114.3,243.5 L1114.9,241.5 L1115.4,239.6 L1116.0,237.7 L1116.5,235.8 L1117.1,233.8 L1117.6,231.9 L1118.2,230.0 L1118.7,228.0 L1119.2,226.1 L1119.8,224.2 L1120.3,222.3 L1120.9,220.3 L1121.5,218.4 L1122.0,216.5 L1122.6,214.6 L1123.2,212.7 L1123.7,210.7 L1124.3,208.8 L1124.9,206.9 L1125.5,205.0 L1126.0,203.1 L1126.6,201.1 L1127.2,199.2 L1127.8,197.3 L1128.3,195.4 L1128.9,193.5 L1129.5,191.5 L1130.0,189.6 L1130.6,187.7 L1131.2,185.8 L1131.7,183.8 L1132.3,181.9 L1132.8,180.0 L1133.4,178.1 L1133.9,176.1 L1134.5,174.2 L1135.0,172.3 L1135.5,170.3 L1136.0,168.4 L1136.5,166.4 L1137.0,164.5 L1137.5,162.6 L1137.9,160.6 L1138.4,158.7 L1138.8,156.7 L1139.3,154.7 L1139.7,152.8 L1140.2,150.8 L1140.6,148.9 L1141.0,146.9 L1141.5,145.0 L1141.9,143.0 L1142.4,141.1 L1142.8,139.1 L1143.3,137.2 L1143.8,135.2 L1144.3,133.3 L1144.8,131.3 L1145.3,129.4 L1145.8,127.5 L1146.4,125.5 L1147.0,123.6 L1147.6,121.7 L1148.3,119.9 L1149.1,118.0 L1149.8,116.1 L1150.6,114.3 L1151.5,112.5 L1152.4,110.7 L1153.3,108.9 L1154.3,107.2 L1155.4,105.5 L1156.5,103.8 L1157.6,102.2 L1158.8,100.6 L1160.0,99.0 L1161.3,97.5 L1162.7,96.0 L1164.0,94.5 L1165.5,93.1 L1166.9,91.8 L1168.5,90.5 L1170.1,89.3 L1171.8,88.3 L1173.6,87.4 L1175.5,86.8 L1177.4,86.4 L1179.3,86.3 L1181.3,86.5 L1183.2,87.1 L1185.0,87.8 L1186.7,88.8 L1188.4,89.9 L1190.0,91.2 L1191.5,92.5 L1192.9,93.8 L1194.3,95.3 L1195.7,96.7 L1197.0,98.3 L1198.2,99.9 L1199.4,101.5 L1200.5,103.1 L1201.6,104.8 L1202.6,106.5 L1203.7,108.2 L1204.7,110.0 L1205.7,111.7 L1206.8,113.4 L1207.9,115.1 L1208.9,116.8 L1210.0,118.5 L1211.2,120.1 L1212.3,121.7 L1213.5,123.4 L1214.7,124.9 L1216.0,126.5 L1217.2,128.1 L1218.5,129.6 L1219.8,131.2 L1221.0,132.7 L1222.3,134.3 L1223.6,135.8 L1224.8,137.4 L1226.1,139.0 L1227.3,140.5 L1228.5,142.1 L1229.7,143.7 L1230.9,145.4 L1232.1,147.0 L1233.2,148.7 L1234.3,150.3 L1235.4,152.0 L1236.4,153.7 L1237.4,155.5 L1238.3,157.2 L1239.3,159.0 L1240.2,160.8 L1241.1,162.6 L1241.9,164.4 L1242.8,166.2 L1243.6,168.0 L1244.4,169.9 L1245.2,171.7 L1246.0,173.6 L1246.8,175.4 L1247.6,177.2 L1248.4,179.1 L1249.1,180.9 L1249.9,182.8 L1250.7,184.6 L1251.5,186.5 L1252.3,188.3 L1253.0,190.2 L1253.8,192.0 L1254.7,193.8 L1255.5,195.7 L1256.3,197.5 L1257.2,199.3 L1258.1,201.1 L1259.1,202.8 L1260.0,204.6 L1261.0,206.3 L1262.0,208.0 L1263.1,209.7 L1264.2,211.4 L1265.3,213.1 L1266.4,214.8 L1267.4,216.5 L1268.5,218.2 L1269.5,219.9 L1270.5,221.6 L1271.5,223.4 L1272.4,225.2 L1273.4,226.9 L1274.3,228.7 L1275.2,230.5 L1276.1,232.3 L1277.0,234.1 L1277.9,235.9 L1278.8,237.6 L1279.7,239.4 L1280.6,241.2 L1281.5,243.0 L1282.4,244.8 L1283.3,246.6 L1284.2,248.4 L1285.1,250.2 L1286.0,252.0 L1286.8,253.8 L1287.7,255.6 L1288.6,257.4 L1289.5,259.2 L1290.4,261.0 L1291.3,262.8 L1292.2,264.6 L1292.6,265.5" fill="none" stroke="#70ff10" stroke-width="2.1" stroke-linecap="round" stroke-linejoin="round"/><g fill="#8cff33" stroke="#84ff28" stroke-width="1"><circle cx="859.6" cy="225.2" r="7.4"/><circle cx="869.4" cy="219.6" r="7.4"/><circle cx="877.1" cy="233.0" r="7.4"/><circle cx="885.3" cy="245.3" r="7.4"/><circle cx="893.5" cy="249.4" r="7.4"/><circle cx="901.8" cy="254.6" r="7.4"/><circle cx="908.0" cy="265.9" r="7.4"/><circle cx="918.0" cy="262.4" r="7.4"/><circle cx="929.4" cy="285.1" r="7.4"/><circle cx="938.7" cy="275.8" r="7.4"/><circle cx="946.9" cy="288.2" r="7.4"/><circle cx="957.3" cy="285.1" r="7.4"/><circle cx="964.5" cy="303.7" r="7.4"/><circle cx="973.8" cy="314.1" r="7.4"/><circle cx="983.1" cy="316.1" r="7.4"/><circle cx="992.4" cy="321.3" r="7.4"/><circle cx="1001.7" cy="325.4" r="7.4"/><circle cx="1010.0" cy="334.7" r="7.4"/><circle cx="1019.3" cy="344.0" r="7.4"/><circle cx="1029.6" cy="344.0" r="7.4"/><circle cx="1036.2" cy="344.5" r="7.4"/><circle cx="1045.5" cy="347.5" r="7.4"/><circle cx="1053.8" cy="346.5" r="7.4"/><circle cx="1062.3" cy="362.3" r="7.4"/><circle cx="1070.3" cy="344.0" r="7.4"/><circle cx="1079.6" cy="338.9" r="7.4"/><circle cx="1087.9" cy="328.5" r="7.4"/><circle cx="1096.2" cy="296.5" r="7.4"/><circle cx="1105.5" cy="262.4" r="7.4"/><circle cx="1113.7" cy="239.6" r="7.4"/><circle cx="1121.0" cy="214.2" r="7.4"/><circle cx="1132.3" cy="175.9" r="7.4"/><circle cx="1140.6" cy="137.7" r="7.4"/><circle cx="1149.9" cy="115.0" r="7.4"/><circle cx="1157.1" cy="107.7" r="7.4"/><circle cx="1167.5" cy="93.2" r="7.4"/><circle cx="1175.8" cy="88.1" r="7.4"/><circle cx="1184.0" cy="93.2" r="7.4"/><circle cx="1193.3" cy="106.7" r="7.4"/><circle cx="1201.6" cy="104.6" r="7.4"/><circle cx="1210.9" cy="99.5" r="7.4"/><circle cx="1219.2" cy="134.6" r="7.4"/><circle cx="1228.5" cy="144.9" r="7.4"/><circle cx="1236.7" cy="162.5" r="7.4"/><circle cx="1246.0" cy="179.0" r="7.4"/><circle cx="1255.3" cy="187.3" r="7.4"/><circle cx="1265.7" cy="212.1" r="7.4"/><circle cx="1272.9" cy="216.3" r="7.4"/><circle cx="1281.2" cy="251.0" r="7.4"/><circle cx="1289.5" cy="269.6" r="7.4"/></g><path d="M771.0,323.0 L773.0,323.3 L775.0,323.5 L777.0,323.8 L779.0,324.0 L780.9,324.3 L782.9,324.5 L784.9,324.8 L786.9,325.0 L788.9,325.3 L790.9,325.6 L792.9,325.8 L794.9,326.1 L796.8,326.3 L798.8,326.6 L800.8,326.8 L802.8,327.1 L804.8,327.3 L806.8,327.6 L808.8,327.9 L810.8,328.1 L812.7,328.4 L814.7,328.6 L816.7,328.9 L818.7,329.1 L820.7,329.4 L822.7,329.6 L824.7,329.9 L826.7,330.1 L828.7,330.4 L830.6,330.6 L832.6,330.9 L834.6,331.1 L836.6,331.4 L838.6,331.6 L840.6,331.9 L842.6,332.1 L844.6,332.3 L846.6,332.6 L848.6,332.8 L850.5,333.1 L852.5,333.3 L854.5,333.5 L856.5,333.8 L858.5,334.0 L860.5,334.2 L862.5,334.4 L864.5,334.7 L866.5,334.9 L868.5,335.1 L870.5,335.3 L872.4,335.5 L874.4,335.8 L876.4,336.0 L878.4,336.2 L880.4,336.4 L882.4,336.6 L884.4,336.8 L886.4,337.1 L888.4,337.3 L890.4,337.5 L892.4,337.7 L894.4,337.9 L896.4,338.1 L898.4,338.3 L900.3,338.6 L902.3,338.8 L904.3,339.0 L906.3,339.2 L908.3,339.4 L910.3,339.7 L912.3,339.9 L914.3,340.1 L916.3,340.3 L918.3,340.6 L920.3,340.8 L922.3,341.0 L924.2,341.3 L926.2,341.5 L928.2,341.8 L930.2,342.0 L932.2,342.3 L934.2,342.5 L936.2,342.8 L938.2,343.1 L940.2,343.3 L942.1,343.6 L944.1,343.9 L946.1,344.1 L948.1,344.4 L950.1,344.7 L952.1,345.0 L954.0,345.3 L956.0,345.5 L958.0,345.8 L960.0,346.1 L962.0,346.4 L964.0,346.7 L966.0,347.0 L967.9,347.3 L969.9,347.6 L971.9,347.8 L973.9,348.1 L975.9,348.4 L977.9,348.7 L979.8,349.0 L981.8,349.3 L983.8,349.6 L985.8,349.9 L987.8,350.2 L989.7,350.5 L991.7,350.8 L993.7,351.1 L995.7,351.4 L997.7,351.7 L999.7,352.0 L1001.6,352.2 L1003.6,352.5 L1005.6,352.8 L1007.6,353.2 L1009.6,353.5 L1011.5,353.8 L1013.5,354.1 L1015.5,354.5 L1017.5,354.8 L1019.4,355.1 L1021.4,355.4 L1023.4,355.7 L1025.4,356.0 L1027.4,356.2 L1029.4,356.3 L1031.4,356.5 L1033.4,356.6 L1035.4,356.7 L1037.4,356.8 L1039.4,356.9 L1041.4,357.0 L1043.4,357.0 L1045.4,357.0 L1047.4,357.0 L1049.4,357.0 L1051.4,357.0 L1053.4,356.9 L1055.4,356.8 L1057.4,356.7 L1059.4,356.5 L1061.4,356.3 L1063.4,356.0 L1065.4,355.7 L1067.3,355.3 L1069.3,354.8 L1071.2,354.3 L1073.1,353.7 L1075.0,353.0 L1076.9,352.3 L1078.7,351.5 L1080.6,350.7 L1082.4,349.9 L1084.2,349.0 L1086.0,348.1 L1087.7,347.2 L1089.5,346.2 L1091.2,345.2 L1092.9,344.1 L1094.5,342.9 L1096.1,341.7 L1097.6,340.4 L1099.1,339.0 L1100.4,337.5 L1101.7,336.0 L1102.9,334.4 L1104.0,332.7 L1105.0,331.0 L1106.0,329.3 L1107.0,327.5 L1107.9,325.7 L1108.7,323.9 L1109.6,322.1 L1110.4,320.3 L1111.2,318.4 L1112.0,316.6 L1112.8,314.8 L1113.6,312.9 L1114.4,311.1 L1115.1,309.2 L1115.8,307.3 L1116.5,305.4 L1117.2,303.6 L1117.9,301.7 L1118.6,299.8 L1119.2,297.9 L1119.9,296.0 L1120.5,294.1 L1121.1,292.2 L1121.7,290.3 L1122.3,288.4 L1122.9,286.4 L1123.5,284.5 L1124.1,282.6 L1124.6,280.7 L1125.1,278.7 L1125.7,276.8 L1126.2,274.9 L1126.6,272.9 L1127.1,271.0 L1127.6,269.0 L1128.1,267.1 L1128.6,265.1 L1129.0,263.2 L1129.5,261.2 L1130.0,259.3 L1130.5,257.3 L1130.9,255.4 L1131.4,253.5 L1131.9,251.5 L1132.3,249.6 L1132.8,247.6 L1133.2,245.6 L1133.6,243.7 L1134.0,241.7 L1134.4,239.8 L1134.8,237.8 L1135.2,235.8 L1135.6,233.9 L1136.0,231.9 L1136.4,229.9 L1136.8,228.0 L1137.1,226.0 L1137.5,224.0 L1137.9,222.0 L1138.3,220.1 L1138.6,218.1 L1139.0,216.1 L1139.3,214.2 L1139.7,212.2 L1140.1,210.2 L1140.4,208.3 L1140.8,206.3 L1141.2,204.3 L1141.5,202.3 L1141.9,200.4 L1142.3,198.4 L1142.7,196.4 L1143.1,194.5 L1143.5,192.5 L1143.9,190.5 L1144.3,188.6 L1144.7,186.6 L1145.2,184.7 L1145.6,182.7 L1146.1,180.8 L1146.5,178.8 L1147.0,176.9 L1147.5,174.9 L1147.9,173.0 L1148.4,171.0 L1148.9,169.1 L1149.4,167.1 L1149.9,165.2 L1150.5,163.3 L1151.0,161.3 L1151.5,159.4 L1152.1,157.5 L1152.6,155.5 L1153.2,153.6 L1153.7,151.7 L1154.3,149.8 L1154.8,147.8 L1155.3,145.9 L1155.9,144.0 L1156.4,142.0 L1157.0,140.1 L1157.5,138.2 L1158.1,136.3 L1158.7,134.4 L1159.3,132.5 L1160.0,130.6 L1160.8,128.7 L1161.6,126.9 L1162.4,125.1 L1163.3,123.3 L1164.3,121.5 L1165.3,119.8 L1166.4,118.1 L1167.6,116.5 L1168.8,115.0 L1170.2,113.5 L1171.7,112.3 L1173.4,111.3 L1175.2,110.5 L1177.2,110.1 L1179.1,109.9 L1181.1,109.8 L1183.1,109.7 L1185.1,109.7 L1187.1,109.9 L1189.1,110.2 L1191.0,110.7 L1192.8,111.5 L1194.5,112.5 L1196.1,113.6 L1197.7,114.9 L1199.1,116.3 L1200.5,117.7 L1201.9,119.2 L1203.2,120.7 L1204.5,122.3 L1205.8,123.8 L1207.1,125.3 L1208.4,126.9 L1209.6,128.4 L1210.9,129.9 L1212.3,131.4 L1213.6,132.9 L1215.0,134.4 L1216.4,135.8 L1217.8,137.2 L1219.3,138.6 L1220.7,139.9 L1222.2,141.3 L1223.7,142.6 L1225.3,143.9 L1226.8,145.2 L1228.3,146.5 L1229.8,147.8 L1231.3,149.2 L1232.8,150.5 L1234.3,151.9 L1235.7,153.3 L1237.1,154.7 L1238.5,156.1 L1239.9,157.6 L1241.2,159.1 L1242.5,160.6 L1243.8,162.2 L1245.1,163.7 L1246.4,165.2 L1247.7,166.8 L1249.0,168.3 L1250.3,169.8 L1251.6,171.3 L1253.0,172.7 L1254.4,174.1 L1255.9,175.5 L1257.3,176.9 L1258.8,178.2 L1260.4,179.5 L1261.9,180.8 L1263.4,182.1 L1265.0,183.4 L1266.6,184.6 L1268.1,185.9 L1269.7,187.1 L1271.3,188.3 L1272.9,189.5 L1274.5,190.7 L1276.1,192.0 L1277.7,193.2 L1279.3,194.4 L1280.9,195.6 L1282.5,196.8 L1284.1,198.0 L1285.7,199.2 L1287.3,200.4 L1288.9,201.6 L1290.5,202.8 L1290.5,202.8" fill="none" stroke="#e4720f" stroke-width="2.1" stroke-linecap="round" stroke-linejoin="round"/><g fill="#fff" stroke="#4a80e8" stroke-width="1.3"><rect x="761.8" y="351.2" width="12.6" height="12.6"/><rect x="773.2" y="347.0" width="12.6" height="12.6"/><rect x="783.5" y="353.3" width="12.6" height="12.6"/><rect x="790.7" y="350.1" width="12.6" height="12.6"/><rect x="800.0" y="347.0" width="12.6" height="12.6"/><rect x="808.3" y="343.9" width="12.6" height="12.6"/><rect x="817.6" y="342.9" width="12.6" height="12.6"/><rect x="826.9" y="340.8" width="12.6" height="12.6"/><rect x="836.2" y="337.7" width="12.6" height="12.6"/><rect x="845.5" y="336.7" width="12.6" height="12.6"/><rect x="853.8" y="331.5" width="12.6" height="12.6"/><rect x="862.1" y="326.4" width="12.6" height="12.6"/><rect x="871.4" y="320.2" width="12.6" height="12.6"/><rect x="879.7" y="309.8" width="12.6" height="12.6"/><rect x="887.9" y="302.6" width="12.6" height="12.6"/><rect x="896.8" y="285.0" width="12.6" height="12.6"/><rect x="905.9" y="273.7" width="12.6" height="12.6"/><rect x="914.8" y="263.3" width="12.6" height="12.6"/><rect x="923.1" y="254.0" width="12.6" height="12.6"/><rect x="932.4" y="239.5" width="12.6" height="12.6"/><rect x="941.6" y="228.2" width="12.6" height="12.6"/><rect x="950.8" y="216.0" width="12.6" height="12.6"/><rect x="958.2" y="203.8" width="12.6" height="12.6"/><rect x="968.1" y="188.2" width="12.6" height="12.6"/><rect x="976.2" y="172.1" width="12.6" height="12.6"/><rect x="984.7" y="158.3" width="12.6" height="12.6"/><rect x="994.0" y="142.4" width="12.6" height="12.6"/><rect x="1002.7" y="135.5" width="12.6" height="12.6"/><rect x="1012.0" y="125.2" width="12.6" height="12.6"/><rect x="1020.8" y="114.9" width="12.6" height="12.6"/><rect x="1028.2" y="101.4" width="12.6" height="12.6"/><rect x="1038.2" y="89.0" width="12.6" height="12.6"/><rect x="1046.4" y="88.0" width="12.6" height="12.6"/><rect x="1054.7" y="86.9" width="12.6" height="12.6"/><rect x="1064.0" y="86.9" width="12.6" height="12.6"/><rect x="1073.3" y="95.2" width="12.6" height="12.6"/><rect x="1082.6" y="83.8" width="12.6" height="12.6"/><rect x="1090.3" y="139.7" width="12.6" height="12.6"/><rect x="1099.2" y="160.3" width="12.6" height="12.6"/><rect x="1108.5" y="159.3" width="12.6" height="12.6"/><rect x="1116.7" y="194.5" width="12.6" height="12.6"/><rect x="1125.4" y="207.9" width="12.6" height="12.6"/><rect x="1134.3" y="224.0" width="12.6" height="12.6"/><rect x="1143.4" y="216.4" width="12.6" height="12.6"/><rect x="1151.9" y="227.1" width="12.6" height="12.6"/></g><path d="M768.0,362.0 L770.0,361.6 L771.9,361.2 L773.9,360.8 L775.9,360.4 L777.8,360.0 L779.8,359.6 L781.8,359.2 L783.7,358.9 L785.7,358.5 L787.7,358.1 L789.6,357.7 L791.6,357.3 L793.6,356.9 L795.5,356.5 L797.5,356.1 L799.5,355.7 L801.4,355.4 L803.4,355.0 L805.4,354.6 L807.4,354.3 L809.3,353.9 L811.3,353.6 L813.3,353.2 L815.3,352.8 L817.2,352.4 L819.2,352.0 L821.2,351.6 L823.1,351.2 L825.1,350.7 L827.0,350.2 L828.9,349.6 L830.8,349.0 L832.7,348.4 L834.6,347.7 L836.5,347.0 L838.4,346.3 L840.2,345.5 L842.1,344.7 L843.9,343.8 L845.7,343.0 L847.5,342.1 L849.3,341.2 L851.1,340.3 L852.9,339.4 L854.6,338.4 L856.4,337.5 L858.1,336.5 L859.9,335.5 L861.6,334.4 L863.2,333.3 L864.9,332.2 L866.5,331.0 L868.1,329.8 L869.7,328.5 L871.2,327.2 L872.7,325.9 L874.2,324.6 L875.7,323.2 L877.1,321.8 L878.5,320.4 L879.9,319.0 L881.3,317.5 L882.7,316.1 L884.1,314.6 L885.4,313.1 L886.7,311.6 L888.0,310.1 L889.3,308.5 L890.5,306.9 L891.8,305.4 L893.0,303.8 L894.2,302.1 L895.3,300.5 L896.5,298.9 L897.6,297.2 L898.8,295.6 L899.9,293.9 L901.0,292.2 L902.2,290.6 L903.3,288.9 L904.4,287.3 L905.6,285.6 L906.7,284.0 L907.9,282.4 L909.1,280.8 L910.3,279.2 L911.6,277.6 L912.8,276.0 L914.1,274.5 L915.4,272.9 L916.6,271.4 L917.9,269.8 L919.2,268.3 L920.5,266.8 L921.8,265.2 L923.1,263.7 L924.4,262.2 L925.7,260.7 L927.0,259.1 L928.3,257.6 L929.6,256.1 L930.9,254.5 L932.2,253.0 L933.5,251.5 L934.8,249.9 L936.1,248.4 L937.4,246.9 L938.7,245.4 L940.0,243.9 L941.3,242.4 L942.6,240.8 L943.9,239.3 L945.2,237.8 L946.5,236.2 L947.7,234.6 L949.0,233.1 L950.2,231.5 L951.4,229.9 L952.6,228.3 L953.8,226.6 L954.9,225.0 L956.1,223.4 L957.3,221.7 L958.4,220.1 L959.5,218.4 L960.6,216.7 L961.8,215.1 L962.9,213.4 L964.0,211.7 L965.1,210.1 L966.2,208.4 L967.3,206.7 L968.3,205.0 L969.4,203.3 L970.5,201.6 L971.6,199.9 L972.6,198.2 L973.7,196.5 L974.7,194.8 L975.7,193.1 L976.8,191.3 L977.8,189.6 L978.8,187.9 L979.8,186.2 L980.8,184.4 L981.8,182.7 L982.8,180.9 L983.8,179.2 L984.8,177.5 L985.8,175.7 L986.8,174.0 L987.9,172.3 L988.9,170.5 L989.9,168.8 L990.9,167.1 L991.9,165.4 L993.0,163.6 L994.0,161.9 L995.1,160.2 L996.1,158.5 L997.2,156.8 L998.2,155.1 L999.3,153.4 L1000.3,151.7 L1001.4,150.0 L1002.5,148.3 L1003.5,146.6 L1004.6,144.9 L1005.7,143.2 L1006.7,141.5 L1007.8,139.8 L1008.9,138.1 L1010.0,136.4 L1011.0,134.7 L1012.1,133.0 L1013.2,131.3 L1014.3,129.7 L1015.4,128.0 L1016.5,126.3 L1017.5,124.6 L1018.6,122.9 L1019.7,121.2 L1020.8,119.5 L1021.9,117.9 L1023.1,116.2 L1024.2,114.6 L1025.4,113.0 L1026.6,111.3 L1027.8,109.8 L1029.1,108.2 L1030.4,106.7 L1031.8,105.3 L1033.2,103.8 L1034.7,102.5 L1036.3,101.2 L1037.9,100.0 L1039.5,98.9 L1041.2,97.8 L1042.9,96.8 L1044.7,95.9 L1046.5,95.1 L1048.4,94.3 L1050.3,93.7 L1052.2,93.2 L1054.2,92.9 L1056.2,92.6 L1058.2,92.5 L1060.2,92.6 L1062.1,92.9 L1064.1,93.3 L1065.9,94.1 L1067.7,95.0 L1069.4,96.0 L1071.0,97.2 L1072.6,98.4 L1074.1,99.7 L1075.6,101.1 L1077.0,102.5 L1078.4,103.9 L1079.8,105.4 L1081.1,106.9 L1082.3,108.5 L1083.5,110.1 L1084.7,111.7 L1085.9,113.3 L1087.0,115.0 L1088.0,116.7 L1089.1,118.4 L1090.1,120.2 L1091.1,121.9 L1092.0,123.7 L1093.0,125.4 L1093.9,127.2 L1094.8,129.0 L1095.8,130.8 L1096.7,132.5 L1097.6,134.3 L1098.5,136.1 L1099.4,137.9 L1100.3,139.7 L1101.2,141.5 L1102.1,143.3 L1103.0,145.1 L1103.9,146.9 L1104.7,148.7 L1105.6,150.5 L1106.5,152.3 L1107.3,154.1 L1108.1,156.0 L1109.0,157.8 L1109.8,159.6 L1110.6,161.4 L1111.5,163.3 L1112.3,165.1 L1113.1,166.9 L1113.9,168.8 L1114.8,170.6 L1115.6,172.4 L1116.5,174.2 L1117.3,176.0 L1118.2,177.8 L1119.1,179.6 L1120.0,181.4 L1120.9,183.2 L1121.8,185.0 L1122.7,186.8 L1123.6,188.6 L1124.5,190.4 L1125.4,192.2 L1126.3,194.0 L1127.2,195.8 L1128.1,197.5 L1129.0,199.3 L1129.9,201.1 L1130.8,203.0 L1131.6,204.8 L1132.4,206.6 L1133.3,208.4 L1134.1,210.2 L1135.0,212.1 L1135.8,213.9 L1136.7,215.7 L1137.6,217.5 L1138.5,219.3 L1139.4,221.1 L1140.4,222.8 L1141.4,224.5 L1142.4,226.3 L1143.5,228.0 L1144.6,229.6 L1145.7,231.3 L1146.8,233.0 L1148.0,234.6 L1149.1,236.2 L1150.3,237.9 L1151.5,239.5 L1152.7,241.1 L1153.9,242.7 L1155.0,244.3 L1156.2,246.0 L1157.4,247.6 L1158.6,249.2 L1159.2,250.0" fill="none" stroke="#0000ff" stroke-width="2.1" stroke-linecap="round" stroke-linejoin="round"/><clipPath id="cBL1"><rect x="80" y="470" width="360" height="340"/></clipPath><clipPath id="cBL2"><rect x="440" y="470" width="180" height="340"/></clipPath><g clip-path="url(#cBL1)"><path d="M143.3,549.0 L144.7,550.4 L146.1,551.8 L147.6,553.3 L149.0,554.7 L150.4,556.1 L151.8,557.5 L153.2,558.9 L154.7,560.3 L156.1,561.7 L157.5,563.1 L158.9,564.6 L160.3,566.0 L161.8,567.4 L163.2,568.8 L164.6,570.2 L166.0,571.6 L167.4,573.0 L168.9,574.5 L170.3,575.9 L171.7,577.3 L173.1,578.7 L174.5,580.1 L175.9,581.6 L177.4,583.0 L178.8,584.4 L180.2,585.8 L181.6,587.2 L183.0,588.7 L184.4,590.1 L185.8,591.5 L187.2,592.9 L188.6,594.4 L190.1,595.8 L191.5,597.2 L192.9,598.7 L194.3,600.1 L195.7,601.5 L197.1,603.0 L198.5,604.4 L199.8,605.8 L201.2,607.3 L202.6,608.7 L204.0,610.2 L205.4,611.6 L206.8,613.1 L208.1,614.5 L209.5,616.0 L210.9,617.5 L212.3,618.9 L213.6,620.4 L215.0,621.8 L216.4,623.3 L217.7,624.8 L219.1,626.2 L220.5,627.7 L221.8,629.2 L223.2,630.7 L224.6,632.1 L225.9,633.6 L227.3,635.1 L228.7,636.5 L230.0,638.0 L231.4,639.5 L232.7,640.9 L234.1,642.4 L235.5,643.9 L236.8,645.4 L238.2,646.8 L239.6,648.3 L240.9,649.8 L242.3,651.2 L243.6,652.7 L245.0,654.2 L246.4,655.6 L247.8,657.1 L249.1,658.6 L250.5,660.0 L251.9,661.5 L253.3,662.9 L254.6,664.4 L256.0,665.8 L257.4,667.3 L258.8,668.7 L260.2,670.2 L261.6,671.6 L263.0,673.1 L264.4,674.5 L265.8,675.9 L267.1,677.4 L268.5,678.8 L269.9,680.2 L271.3,681.7 L272.7,683.1 L274.2,684.5 L275.6,686.0 L277.0,687.4 L278.4,688.8 L279.8,690.3 L281.2,691.7 L282.6,693.1 L284.0,694.5 L285.4,695.9 L286.9,697.4 L288.3,698.8 L289.7,700.2 L291.1,701.6 L292.5,703.0 L294.0,704.4 L295.4,705.8 L296.8,707.2 L298.2,708.6 L299.7,710.0 L301.1,711.4 L302.6,712.8 L304.0,714.2 L305.4,715.6 L306.9,717.0 L308.3,718.4 L309.8,719.8 L311.2,721.2 L312.7,722.5 L314.1,723.9 L315.6,725.3 L317.1,726.7 L318.5,728.0 L320.0,729.4 L321.5,730.8 L322.9,732.1 L324.4,733.5 L325.9,734.8 L327.4,736.2 L328.8,737.5 L330.3,738.9 L331.8,740.2 L333.3,741.6 L334.8,742.9 L336.3,744.2 L337.8,745.6 L339.3,746.9 L340.8,748.2 L342.4,749.5 L343.9,750.8 L345.4,752.1 L347.0,753.3 L348.5,754.6 L350.1,755.9 L351.7,757.1 L353.3,758.3 L354.9,759.5 L356.5,760.7 L358.2,761.8 L359.9,762.9 L361.6,763.9 L363.3,764.9 L365.1,765.8 L366.9,766.6 L368.8,767.4 L370.6,768.1 L372.5,768.8 L374.4,769.5 L376.3,770.0 L378.3,770.5 L380.3,770.9 L382.2,771.2 L384.2,771.5 L386.2,771.7 L388.2,771.9 L390.2,772.0 L392.2,772.2 L394.2,772.3 L396.2,772.4 L398.2,772.4 L400.2,772.3 L402.2,772.1 L404.1,771.7 L406.0,771.0 L407.7,770.1 L409.4,769.0 L410.9,767.7 L412.4,766.3 L413.7,764.9 L415.0,763.3 L416.2,761.7 L417.3,760.1 L418.4,758.4 L419.5,756.7 L420.5,755.0 L421.5,753.2 L422.4,751.5 L423.3,749.7 L424.1,747.8 L424.9,746.0 L425.7,744.1 L426.4,742.3 L427.0,740.4 L427.7,738.5 L428.3,736.6 L428.9,734.7 L429.5,732.8 L430.1,730.8 L430.7,728.9 L431.3,727.0 L431.9,725.1 L432.5,723.2 L433.2,721.3 L433.8,719.4 L434.4,717.5 L435.0,715.5 L435.5,713.6 L436.1,711.7 L436.7,709.8 L437.3,707.9 L437.9,705.9 L438.4,704.0 L439.0,702.1 L439.5,700.2 L440.1,698.2 L440.6,696.3 L441.2,694.4 L441.7,692.5 L442.2,690.5 L442.7,688.6 L443.2,686.6 L443.8,684.7 L444.3,682.8 L444.8,680.8 L445.3,678.9 L445.8,676.9 L446.2,675.0 L446.7,673.1 L447.2,671.1 L447.7,669.2 L448.2,667.2 L448.6,665.3 L449.1,663.3 L449.6,661.4 L450.0,659.4 L450.5,657.5 L451.0,655.5 L451.4,653.6 L451.9,651.6 L452.3,649.7 L452.8,647.7 L453.2,645.8 L453.7,643.8 L454.1,641.8 L454.5,639.9 L455.0,637.9 L455.4,636.0 L455.8,634.0 L456.2,632.0 L456.6,630.1 L457.1,628.1 L457.5,626.2 L457.9,624.2 L458.3,622.2 L458.7,620.3 L459.1,618.3 L459.5,616.4 L459.9,614.4 L460.4,612.4 L460.8,610.5 L461.2,608.5 L461.6,606.6 L462.1,604.6 L462.5,602.6 L462.9,600.7 L463.4,598.7 L463.8,596.8 L464.3,594.8 L464.8,592.9 L465.2,590.9 L465.7,589.0 L466.2,587.0 L466.7,585.1 L467.3,583.2 L467.8,581.2 L468.3,579.3 L468.8,577.4 L469.4,575.4 L469.9,573.5 L470.5,571.6 L471.0,569.7 L471.6,567.7 L472.2,565.8 L472.7,563.9 L473.3,562.0 L473.9,560.1 L474.5,558.1 L475.1,556.2 L475.7,554.3 L476.3,552.4 L476.9,550.5 L477.6,548.6 L478.2,546.7 L478.9,544.8 L479.5,542.9 L480.2,541.0 L480.9,539.2 L481.7,537.3 L482.5,535.5 L483.3,533.6 L484.1,531.8 L485.1,530.0 L486.0,528.3 L487.0,526.6 L488.1,524.9 L489.2,523.2 L490.3,521.5 L491.4,519.9 L492.6,518.2 L493.9,516.7 L495.2,515.2 L496.6,513.8 L498.1,512.5 L499.8,511.4 L501.6,510.6 L503.4,510.1 L505.4,509.8 L507.4,509.8 L509.4,509.9 L511.4,510.2 L513.3,510.5 L515.3,511.0 L517.2,511.6 L519.1,512.2 L521.0,512.9 L522.9,513.5 L524.8,514.2 L526.6,515.0 L528.3,516.0 L529.9,517.1 L531.5,518.4 L533.0,519.8 L534.4,521.2 L535.8,522.6 L537.1,524.1 L538.5,525.6 L539.8,527.1 L541.1,528.6 L542.4,530.1 L543.7,531.7 L545.0,533.2 L546.3,534.7 L547.6,536.2 L548.9,537.8 L550.2,539.3 L551.4,540.9 L552.7,542.4 L554.0,544.0 L555.2,545.5 L556.5,547.1 L557.7,548.7 L559.0,550.2 L560.2,551.8 L561.5,553.4 L562.7,554.9 L564.0,556.5 L565.3,558.0 L566.5,559.6 L567.8,561.1 L569.1,562.7 L570.3,564.2 L571.6,565.8 L572.9,567.4 L574.1,568.9 L575.4,570.5 L576.7,572.0 L578.0,573.5 L579.3,575.1 L580.6,576.6 L581.9,578.1 L583.2,579.6 L584.5,581.1 L585.8,582.6 L587.2,584.1 L588.5,585.6 L589.9,587.1 L591.3,588.5 L592.7,590.0 L594.0,591.4 L595.4,592.9 L596.8,594.3 L598.2,595.8 L599.6,597.2 L601.0,598.6 L602.4,600.1 L603.8,601.5 L605.2,602.9 L606.6,604.4 L608.0,605.8 L609.4,607.2 L610.8,608.7 L611.5,609.4" fill="none" stroke="#0000ff" stroke-width="2.1" stroke-linecap="round" stroke-linejoin="round"/></g><g fill="#3339fb" stroke="#0000ff" stroke-width="1.0"><rect x="136.5" y="544.3" width="13.6" height="13.6"/><rect x="146.0" y="556.7" width="13.6" height="13.6"/><rect x="154.7" y="561.2" width="13.6" height="13.6"/><rect x="164.0" y="579.2" width="13.6" height="13.6"/><rect x="172.3" y="598.0" width="13.6" height="13.6"/><rect x="181.0" y="596.8" width="13.6" height="13.6"/><rect x="189.8" y="599.5" width="13.6" height="13.6"/><rect x="198.7" y="608.8" width="13.6" height="13.6"/><rect x="208.0" y="628.4" width="13.6" height="13.6"/><rect x="216.3" y="628.4" width="13.6" height="13.6"/><rect x="225.0" y="635.4" width="13.6" height="13.6"/><rect x="233.3" y="640.7" width="13.6" height="13.6"/><rect x="241.9" y="659.0" width="13.6" height="13.6"/><rect x="250.8" y="663.2" width="13.6" height="13.6"/><rect x="260.1" y="677.0" width="13.6" height="13.6"/><rect x="268.4" y="694.2" width="13.6" height="13.6"/><rect x="277.7" y="682.8" width="13.6" height="13.6"/><rect x="287.0" y="703.5" width="13.6" height="13.6"/><rect x="295.3" y="704.5" width="13.6" height="13.6"/><rect x="303.5" y="711.3" width="13.6" height="13.6"/><rect x="312.8" y="726.2" width="13.6" height="13.6"/><rect x="321.1" y="729.3" width="13.6" height="13.6"/><rect x="330.4" y="734.5" width="13.6" height="13.6"/><rect x="338.3" y="731.4" width="13.6" height="13.6"/><rect x="346.6" y="743.8" width="13.6" height="13.6"/><rect x="356.6" y="749.0" width="13.6" height="13.6"/><rect x="365.9" y="764.5" width="13.6" height="13.6"/><rect x="374.2" y="766.5" width="13.6" height="13.6"/><rect x="382.5" y="768.6" width="13.6" height="13.6"/><rect x="391.8" y="767.6" width="13.6" height="13.6"/><rect x="400.7" y="770.7" width="13.6" height="13.6"/><rect x="409.8" y="763.9" width="13.6" height="13.6"/><rect x="418.0" y="736.6" width="13.6" height="13.6"/><rect x="426.9" y="707.6" width="13.6" height="13.6"/><rect x="435.8" y="695.2" width="13.6" height="13.6"/><rect x="444.5" y="639.2" width="13.6" height="13.6"/><rect x="452.8" y="607.1" width="13.6" height="13.6"/><rect x="463.1" y="558.5" width="13.6" height="13.6"/><rect x="471.8" y="555.0" width="13.6" height="13.6"/><rect x="478.6" y="528.2" width="13.6" height="13.6"/><rect x="489.0" y="520.9" width="13.6" height="13.6"/><rect x="498.2" y="515.8" width="13.6" height="13.6"/><rect x="508.6" y="511.6" width="13.6" height="13.6"/><rect x="523.1" y="512.6" width="13.6" height="13.6"/><rect x="532.4" y="499.2" width="13.6" height="13.6"/><rect x="541.7" y="535.4" width="13.6" height="13.6"/><rect x="549.9" y="527.1" width="13.6" height="13.6"/><rect x="558.2" y="549.9" width="13.6" height="13.6"/><rect x="567.5" y="552.6" width="13.6" height="13.6"/><rect x="576.8" y="577.8" width="13.6" height="13.6"/><rect x="585.1" y="580.9" width="13.6" height="13.6"/><rect x="593.4" y="590.2" width="13.6" height="13.6"/><rect x="602.7" y="611.9" width="13.6" height="13.6"/></g><path d="M350.0,774.4 L351.7,773.3 L353.4,772.2 L355.1,771.1 L356.8,770.1 L358.4,769.0 L360.1,767.9 L361.8,766.7 L363.4,765.6 L365.0,764.4 L366.7,763.2 L368.2,761.9 L369.8,760.7 L371.3,759.3 L372.7,758.0 L374.2,756.6 L375.6,755.2 L377.0,753.8 L378.4,752.3 L379.8,750.9 L381.2,749.4 L382.5,747.9 L383.9,746.4 L385.2,744.9 L386.4,743.3 L387.7,741.8 L389.0,740.2 L390.2,738.6 L391.4,737.0 L392.6,735.4 L393.8,733.8 L394.9,732.1 L396.1,730.5 L397.2,728.8 L398.3,727.1 L399.3,725.4 L400.4,723.7 L401.4,722.0 L402.4,720.2 L403.4,718.5 L404.4,716.7 L405.4,715.0 L406.3,713.2 L407.3,711.4 L408.2,709.7 L409.2,707.9 L410.1,706.1 L411.0,704.3 L411.9,702.5 L412.8,700.7 L413.6,698.9 L414.5,697.1 L415.4,695.3 L416.2,693.5 L417.1,691.7 L418.0,689.8 L418.8,688.0 L419.6,686.2 L420.5,684.4 L421.3,682.5 L422.1,680.7 L423.0,678.9 L423.8,677.1 L424.6,675.2 L425.4,673.4 L426.2,671.6 L427.1,669.7 L427.9,667.9 L428.6,666.0 L429.4,664.2 L430.2,662.3 L430.9,660.5 L431.7,658.6 L432.4,656.7 L433.1,654.9 L433.9,653.0 L434.6,651.1 L435.3,649.2 L436.0,647.4 L436.8,645.5 L437.5,643.6 L438.2,641.7 L438.9,639.9 L439.7,638.0 L440.4,636.1 L441.2,634.3 L441.9,632.4 L442.6,630.5 L443.3,628.7 L444.1,626.8 L444.8,624.9 L445.5,623.0 L446.2,621.2 L447.0,619.3 L447.7,617.4 L448.4,615.6 L449.2,613.7 L449.9,611.8 L450.6,609.9 L451.4,608.1 L452.1,606.2 L452.8,604.3 L453.6,602.5 L454.3,600.6 L455.1,598.7 L455.8,596.9 L456.6,595.0 L457.3,593.2 L458.1,591.3 L458.9,589.5 L459.6,587.6 L460.4,585.7 L461.2,583.9 L461.9,582.0 L462.7,580.2 L463.4,578.3 L464.2,576.4 L465.0,574.6 L465.8,572.7 L466.6,570.9 L467.4,569.1 L468.2,567.2 L469.0,565.4 L469.9,563.6 L470.8,561.8 L471.7,560.0 L472.6,558.2 L473.6,556.5 L474.5,554.7 L475.6,553.0 L476.6,551.3 L477.7,549.6 L478.8,547.9 L479.9,546.2 L481.0,544.5 L482.2,542.9 L483.3,541.3 L484.5,539.6 L485.7,538.0 L486.9,536.4 L488.2,534.8 L489.4,533.3 L490.6,531.7 L491.9,530.1 L493.2,528.6 L494.4,527.0 L495.7,525.5 L497.0,523.9 L498.3,522.4 L499.6,520.9 L501.0,519.4 L502.4,518.0 L503.8,516.6 L505.3,515.3 L506.9,514.1 L508.6,512.9 L510.3,511.9 L512.1,510.9 L513.9,510.1 L515.7,509.3 L517.6,508.6 L519.5,508.0 L521.5,507.6 L523.4,507.2 L525.4,507.0 L527.4,507.0 L529.4,507.1 L531.4,507.2 L533.4,507.5 L535.4,507.9 L537.3,508.3 L539.3,508.8 L541.2,509.4 L543.1,509.9 L545.0,510.6 L547.0,511.2 L548.9,511.8 L550.7,512.5 L552.6,513.2 L554.5,513.9 L556.4,514.6 L558.3,515.3 L560.1,516.1 L562.0,516.8 L563.9,517.6 L565.7,518.4 L567.5,519.2 L569.4,520.0 L571.2,520.9 L573.0,521.7 L574.8,522.6 L576.6,523.5 L578.4,524.3 L580.2,525.2 L582.0,526.1 L583.8,527.0 L585.6,527.9 L587.4,528.8 L589.2,529.6 L591.1,530.5 L592.9,531.4 L594.7,532.2 L596.5,533.1 L598.3,533.9 L600.1,534.8 L601.9,535.7 L603.8,536.5 L605.6,537.4 L607.4,538.3 L609.2,539.1 L611.0,540.0 L611.0,540.0" fill="none" stroke="#70ff10" stroke-width="2.1" stroke-linecap="round" stroke-linejoin="round"/><g fill="#8cff33" stroke="#84ff28" stroke-width="1"><circle cx="90.5" cy="739.8" r="7.4"/><circle cx="99.7" cy="742.5" r="7.4"/><circle cx="108.9" cy="743.9" r="7.4"/><circle cx="117.6" cy="739.8" r="7.4"/><circle cx="126.4" cy="743.4" r="7.4"/><circle cx="134.6" cy="745.3" r="7.4"/><circle cx="143.8" cy="744.4" r="7.4"/><circle cx="152.6" cy="750.3" r="7.4"/><circle cx="161.3" cy="744.8" r="7.4"/><circle cx="168.2" cy="755.4" r="7.4"/><circle cx="178.8" cy="760.9" r="7.4"/><circle cx="187.9" cy="754.0" r="7.4"/><circle cx="198.0" cy="754.9" r="7.4"/><circle cx="207.0" cy="760.0" r="7.4"/><circle cx="215.0" cy="761.0" r="7.4"/><circle cx="223.0" cy="759.9" r="7.4"/><circle cx="231.8" cy="767.1" r="7.4"/><circle cx="242.1" cy="762.0" r="7.4"/><circle cx="251.0" cy="764.0" r="7.4"/><circle cx="260.0" cy="766.0" r="7.4"/><circle cx="268.0" cy="767.1" r="7.4"/><circle cx="277.0" cy="770.0" r="7.4"/><circle cx="286.0" cy="773.0" r="7.4"/><circle cx="294.0" cy="775.4" r="7.4"/><circle cx="304.1" cy="772.3" r="7.4"/><circle cx="312.0" cy="774.0" r="7.4"/><circle cx="320.0" cy="775.0" r="7.4"/><circle cx="329.0" cy="777.5" r="7.4"/><circle cx="337.0" cy="775.0" r="7.4"/><circle cx="344.0" cy="773.4" r="7.4"/><circle cx="353.1" cy="772.3" r="7.4"/><circle cx="362.4" cy="766.1" r="7.4"/><circle cx="371.7" cy="758.9" r="7.4"/><circle cx="381.0" cy="747.5" r="7.4"/><circle cx="390.3" cy="737.2" r="7.4"/><circle cx="399.2" cy="727.2" r="7.4"/><circle cx="407.5" cy="706.6" r="7.4"/><circle cx="416.2" cy="690.7" r="7.4"/><circle cx="425.5" cy="675.1" r="7.4"/><circle cx="433.7" cy="653.4" r="7.4"/><circle cx="442.0" cy="630.1" r="7.4"/><circle cx="451.7" cy="609.4" r="7.4"/><circle cx="460.6" cy="584.6" r="7.4"/><circle cx="469.9" cy="576.3" r="7.4"/><circle cx="477.1" cy="551.5" r="7.4"/><circle cx="485.0" cy="540.0" r="7.4"/><circle cx="492.7" cy="530.8" r="7.4"/><circle cx="504.0" cy="519.4" r="7.4"/><circle cx="513.3" cy="510.1" r="7.4"/><circle cx="521.0" cy="508.0" r="7.4"/><circle cx="529.9" cy="506.0" r="7.4"/><circle cx="539.0" cy="509.0" r="7.4"/><circle cx="548.0" cy="512.0" r="7.4"/><circle cx="556.7" cy="515.3" r="7.4"/><circle cx="567.1" cy="521.5" r="7.4"/><circle cx="577.4" cy="526.7" r="7.4"/><circle cx="587.7" cy="531.9" r="7.4"/><circle cx="598.1" cy="535.0" r="7.4"/><circle cx="609.5" cy="540.1" r="7.4"/></g><g clip-path="url(#cBL2)"><path d="M143.3,549.0 L144.7,550.4 L146.1,551.8 L147.6,553.3 L149.0,554.7 L150.4,556.1 L151.8,557.5 L153.2,558.9 L154.7,560.3 L156.1,561.7 L157.5,563.1 L158.9,564.6 L160.3,566.0 L161.8,567.4 L163.2,568.8 L164.6,570.2 L166.0,571.6 L167.4,573.0 L168.9,574.5 L170.3,575.9 L171.7,577.3 L173.1,578.7 L174.5,580.1 L175.9,581.6 L177.4,583.0 L178.8,584.4 L180.2,585.8 L181.6,587.2 L183.0,588.7 L184.4,590.1 L185.8,591.5 L187.2,592.9 L188.6,594.4 L190.1,595.8 L191.5,597.2 L192.9,598.7 L194.3,600.1 L195.7,601.5 L197.1,603.0 L198.5,604.4 L199.8,605.8 L201.2,607.3 L202.6,608.7 L204.0,610.2 L205.4,611.6 L206.8,613.1 L208.1,614.5 L209.5,616.0 L210.9,617.5 L212.3,618.9 L213.6,620.4 L215.0,621.8 L216.4,623.3 L217.7,624.8 L219.1,626.2 L220.5,627.7 L221.8,629.2 L223.2,630.7 L224.6,632.1 L225.9,633.6 L227.3,635.1 L228.7,636.5 L230.0,638.0 L231.4,639.5 L232.7,640.9 L234.1,642.4 L235.5,643.9 L236.8,645.4 L238.2,646.8 L239.6,648.3 L240.9,649.8 L242.3,651.2 L243.6,652.7 L245.0,654.2 L246.4,655.6 L247.8,657.1 L249.1,658.6 L250.5,660.0 L251.9,661.5 L253.3,662.9 L254.6,664.4 L256.0,665.8 L257.4,667.3 L258.8,668.7 L260.2,670.2 L261.6,671.6 L263.0,673.1 L264.4,674.5 L265.8,675.9 L267.1,677.4 L268.5,678.8 L269.9,680.2 L271.3,681.7 L272.7,683.1 L274.2,684.5 L275.6,686.0 L277.0,687.4 L278.4,688.8 L279.8,690.3 L281.2,691.7 L282.6,693.1 L284.0,694.5 L285.4,695.9 L286.9,697.4 L288.3,698.8 L289.7,700.2 L291.1,701.6 L292.5,703.0 L294.0,704.4 L295.4,705.8 L296.8,707.2 L298.2,708.6 L299.7,710.0 L301.1,711.4 L302.6,712.8 L304.0,714.2 L305.4,715.6 L306.9,717.0 L308.3,718.4 L309.8,719.8 L311.2,721.2 L312.7,722.5 L314.1,723.9 L315.6,725.3 L317.1,726.7 L318.5,728.0 L320.0,729.4 L321.5,730.8 L322.9,732.1 L324.4,733.5 L325.9,734.8 L327.4,736.2 L328.8,737.5 L330.3,738.9 L331.8,740.2 L333.3,741.6 L334.8,742.9 L336.3,744.2 L337.8,745.6 L339.3,746.9 L340.8,748.2 L342.4,749.5 L343.9,750.8 L345.4,752.1 L347.0,753.3 L348.5,754.6 L350.1,755.9 L351.7,757.1 L353.3,758.3 L354.9,759.5 L356.5,760.7 L358.2,761.8 L359.9,762.9 L361.6,763.9 L363.3,764.9 L365.1,765.8 L366.9,766.6 L368.8,767.4 L370.6,768.1 L372.5,768.8 L374.4,769.5 L376.3,770.0 L378.3,770.5 L380.3,770.9 L382.2,771.2 L384.2,771.5 L386.2,771.7 L388.2,771.9 L390.2,772.0 L392.2,772.2 L394.2,772.3 L396.2,772.4 L398.2,772.4 L400.2,772.3 L402.2,772.1 L404.1,771.7 L406.0,771.0 L407.7,770.1 L409.4,769.0 L410.9,767.7 L412.4,766.3 L413.7,764.9 L415.0,763.3 L416.2,761.7 L417.3,760.1 L418.4,758.4 L419.5,756.7 L420.5,755.0 L421.5,753.2 L422.4,751.5 L423.3,749.7 L424.1,747.8 L424.9,746.0 L425.7,744.1 L426.4,742.3 L427.0,740.4 L427.7,738.5 L428.3,736.6 L428.9,734.7 L429.5,732.8 L430.1,730.8 L430.7,728.9 L431.3,727.0 L431.9,725.1 L432.5,723.2 L433.2,721.3 L433.8,719.4 L434.4,717.5 L435.0,715.5 L435.5,713.6 L436.1,711.7 L436.7,709.8 L437.3,707.9 L437.9,705.9 L438.4,704.0 L439.0,702.1 L439.5,700.2 L440.1,698.2 L440.6,696.3 L441.2,694.4 L441.7,692.5 L442.2,690.5 L442.7,688.6 L443.2,686.6 L443.8,684.7 L444.3,682.8 L444.8,680.8 L445.3,678.9 L445.8,676.9 L446.2,675.0 L446.7,673.1 L447.2,671.1 L447.7,669.2 L448.2,667.2 L448.6,665.3 L449.1,663.3 L449.6,661.4 L450.0,659.4 L450.5,657.5 L451.0,655.5 L451.4,653.6 L451.9,651.6 L452.3,649.7 L452.8,647.7 L453.2,645.8 L453.7,643.8 L454.1,641.8 L454.5,639.9 L455.0,637.9 L455.4,636.0 L455.8,634.0 L456.2,632.0 L456.6,630.1 L457.1,628.1 L457.5,626.2 L457.9,624.2 L458.3,622.2 L458.7,620.3 L459.1,618.3 L459.5,616.4 L459.9,614.4 L460.4,612.4 L460.8,610.5 L461.2,608.5 L461.6,606.6 L462.1,604.6 L462.5,602.6 L462.9,600.7 L463.4,598.7 L463.8,596.8 L464.3,594.8 L464.8,592.9 L465.2,590.9 L465.7,589.0 L466.2,587.0 L466.7,585.1 L467.3,583.2 L467.8,581.2 L468.3,579.3 L468.8,577.4 L469.4,575.4 L469.9,573.5 L470.5,571.6 L471.0,569.7 L471.6,567.7 L472.2,565.8 L472.7,563.9 L473.3,562.0 L473.9,560.1 L474.5,558.1 L475.1,556.2 L475.7,554.3 L476.3,552.4 L476.9,550.5 L477.6,548.6 L478.2,546.7 L478.9,544.8 L479.5,542.9 L480.2,541.0 L480.9,539.2 L481.7,537.3 L482.5,535.5 L483.3,533.6 L484.1,531.8 L485.1,530.0 L486.0,528.3 L487.0,526.6 L488.1,524.9 L489.2,523.2 L490.3,521.5 L491.4,519.9 L492.6,518.2 L493.9,516.7 L495.2,515.2 L496.6,513.8 L498.1,512.5 L499.8,511.4 L501.6,510.6 L503.4,510.1 L505.4,509.8 L507.4,509.8 L509.4,509.9 L511.4,510.2 L513.3,510.5 L515.3,511.0 L517.2,511.6 L519.1,512.2 L521.0,512.9 L522.9,513.5 L524.8,514.2 L526.6,515.0 L528.3,516.0 L529.9,517.1 L531.5,518.4 L533.0,519.8 L534.4,521.2 L535.8,522.6 L537.1,524.1 L538.5,525.6 L539.8,527.1 L541.1,528.6 L542.4,530.1 L543.7,531.7 L545.0,533.2 L546.3,534.7 L547.6,536.2 L548.9,537.8 L550.2,539.3 L551.4,540.9 L552.7,542.4 L554.0,544.0 L555.2,545.5 L556.5,547.1 L557.7,548.7 L559.0,550.2 L560.2,551.8 L561.5,553.4 L562.7,554.9 L564.0,556.5 L565.3,558.0 L566.5,559.6 L567.8,561.1 L569.1,562.7 L570.3,564.2 L571.6,565.8 L572.9,567.4 L574.1,568.9 L575.4,570.5 L576.7,572.0 L578.0,573.5 L579.3,575.1 L580.6,576.6 L581.9,578.1 L583.2,579.6 L584.5,581.1 L585.8,582.6 L587.2,584.1 L588.5,585.6 L589.9,587.1 L591.3,588.5 L592.7,590.0 L594.0,591.4 L595.4,592.9 L596.8,594.3 L598.2,595.8 L599.6,597.2 L601.0,598.6 L602.4,600.1 L603.8,601.5 L605.2,602.9 L606.6,604.4 L608.0,605.8 L609.4,607.2 L610.8,608.7 L611.5,609.4" fill="none" stroke="#0000ff" stroke-width="2.1" stroke-linecap="round" stroke-linejoin="round"/></g><g fill="#e37f22" stroke="#e2740f" stroke-width="1"><path d="M903.5,681.3L912.5,696.5L894.5,696.5Z"/><path d="M911.8,673.1L920.8,688.3L902.8,688.3Z"/><path d="M920.6,683.0L929.6,698.2L911.6,698.2Z"/><path d="M929.4,683.4L938.4,698.6L920.4,698.6Z"/><path d="M938.7,689.6L947.7,704.8L929.7,704.8Z"/><path d="M946.9,693.8L955.9,709.0L937.9,709.0Z"/><path d="M955.7,700.0L964.7,715.2L946.7,715.2Z"/><path d="M964.5,705.1L973.5,720.3L955.5,720.3Z"/><path d="M972.8,715.5L981.8,730.7L963.8,730.7Z"/><path d="M982.1,717.5L991.1,732.7L973.1,732.7Z"/><path d="M991.4,728.9L1000.4,744.1L982.4,744.1Z"/><path d="M999.6,741.3L1008.6,756.5L990.6,756.5Z"/><path d="M1009.0,748.5L1018.0,763.7L1000.0,763.7Z"/><path d="M1018.3,749.6L1027.3,764.8L1009.3,764.8Z"/><path d="M1027.0,743.0L1036.0,758.2L1018.0,758.2Z"/><path d="M1036.0,752.0L1045.0,767.2L1027.0,767.2Z"/><path d="M1044.0,758.0L1053.0,773.2L1035.0,773.2Z"/><path d="M1053.0,764.0L1062.0,779.2L1044.0,779.2Z"/><path d="M1062.0,766.1L1071.0,781.3L1053.0,781.3Z"/><path d="M1070.3,760.9L1079.3,776.1L1061.3,776.1Z"/><path d="M1079.6,757.8L1088.6,773.0L1070.6,773.0Z"/><path d="M1087.9,735.1L1096.9,750.3L1078.9,750.3Z"/><path d="M1097.2,736.1L1106.2,751.3L1088.2,751.3Z"/><path d="M1106.5,725.8L1115.5,741.0L1097.5,741.0Z"/><path d="M1114.8,705.1L1123.8,720.3L1105.8,720.3Z"/><path d="M1123.4,687.6L1132.4,702.8L1114.4,702.8Z"/><path d="M1132.3,641.0L1141.3,656.2L1123.3,656.2Z"/><path d="M1141.6,605.2L1150.6,620.4L1132.6,620.4Z"/><path d="M1149.9,575.3L1158.9,590.5L1140.9,590.5Z"/><path d="M1159.2,559.8L1168.2,575.0L1150.2,575.0Z"/><path d="M1171.5,527.0L1180.5,542.2L1162.5,542.2Z"/><path d="M1175.8,499.8L1184.8,515.0L1166.8,515.0Z"/><path d="M1184.0,496.7L1193.0,511.9L1175.0,511.9Z"/><path d="M1195.4,513.2L1204.4,528.4L1186.4,528.4Z"/><path d="M1201.0,513.0L1210.0,528.2L1192.0,528.2Z"/><path d="M1209.9,524.6L1218.9,539.8L1200.9,539.8Z"/><path d="M1219.2,535.0L1228.2,550.2L1210.2,550.2Z"/><path d="M1228.5,536.0L1237.5,551.2L1219.5,551.2Z"/><path d="M1236.7,542.2L1245.7,557.4L1227.7,557.4Z"/><path d="M1246.0,556.7L1255.0,571.9L1237.0,571.9Z"/><path d="M1255.3,577.3L1264.3,592.5L1246.3,592.5Z"/><path d="M1264.7,550.5L1273.7,565.7L1255.7,565.7Z"/><path d="M1272.9,577.3L1281.9,592.5L1263.9,592.5Z"/><path d="M1281.2,569.1L1290.2,584.3L1272.2,584.3Z"/><path d="M1290.1,593.9L1299.1,609.1L1281.1,609.1Z"/></g><path d="M905.0,690.0 L906.9,690.5 L908.9,691.0 L910.8,691.4 L912.8,691.9 L914.7,692.3 L916.7,692.8 L918.6,693.3 L920.6,693.8 L922.5,694.2 L924.5,694.8 L926.4,695.3 L928.3,695.8 L930.2,696.4 L932.2,697.0 L934.1,697.7 L935.9,698.4 L937.8,699.1 L939.6,699.9 L941.5,700.7 L943.2,701.6 L945.0,702.6 L946.8,703.5 L948.5,704.5 L950.2,705.6 L951.9,706.6 L953.6,707.7 L955.3,708.9 L956.9,710.0 L958.5,711.2 L960.1,712.4 L961.7,713.6 L963.3,714.8 L964.9,716.0 L966.5,717.2 L968.1,718.5 L969.6,719.7 L971.2,721.0 L972.7,722.3 L974.2,723.7 L975.6,725.1 L977.1,726.5 L978.5,727.9 L979.9,729.3 L981.3,730.7 L982.7,732.2 L984.1,733.6 L985.4,735.1 L986.8,736.5 L988.2,737.9 L989.7,739.4 L991.1,740.7 L992.6,742.1 L994.1,743.4 L995.6,744.7 L997.2,746.0 L998.8,747.1 L1000.5,748.2 L1002.2,749.2 L1004.0,750.1 L1005.8,751.0 L1007.7,751.7 L1009.6,752.4 L1011.5,753.0 L1013.4,753.5 L1015.4,754.0 L1017.3,754.5 L1019.3,754.9 L1021.2,755.4 L1023.2,755.9 L1025.1,756.4 L1027.0,756.9 L1028.9,757.5 L1030.8,758.1 L1032.7,758.8 L1034.6,759.5 L1036.4,760.3 L1038.3,761.1 L1040.1,761.8 L1042.0,762.6 L1043.8,763.4 L1045.7,764.2 L1047.5,764.9 L1049.4,765.7 L1051.3,766.4 L1053.2,767.1 L1055.1,767.7 L1057.0,768.2 L1058.9,768.7 L1060.9,769.1 L1062.9,769.4 L1064.9,769.5 L1066.9,769.6 L1068.9,769.6 L1070.9,769.5 L1072.9,769.3 L1074.8,768.9 L1076.8,768.5 L1078.7,768.0 L1080.6,767.3 L1082.5,766.6 L1084.3,765.8 L1086.0,764.8 L1087.7,763.7 L1089.2,762.5 L1090.7,761.1 L1092.1,759.7 L1093.4,758.2 L1094.7,756.6 L1095.8,755.0 L1097.0,753.3 L1098.1,751.7 L1099.2,750.0 L1100.3,748.3 L1101.3,746.6 L1102.3,744.9 L1103.3,743.1 L1104.2,741.3 L1105.2,739.6 L1106.1,737.8 L1107.0,736.0 L1107.8,734.2 L1108.7,732.3 L1109.5,730.5 L1110.3,728.7 L1111.0,726.8 L1111.8,725.0 L1112.5,723.1 L1113.2,721.2 L1113.9,719.3 L1114.6,717.5 L1115.2,715.6 L1115.9,713.7 L1116.5,711.8 L1117.1,709.9 L1117.7,707.9 L1118.3,706.0 L1118.9,704.1 L1119.5,702.2 L1120.0,700.3 L1120.6,698.3 L1121.1,696.4 L1121.6,694.5 L1122.2,692.5 L1122.7,690.6 L1123.2,688.7 L1123.7,686.7 L1124.2,684.8 L1124.7,682.8 L1125.2,680.9 L1125.7,678.9 L1126.1,677.0 L1126.5,675.0 L1127.0,673.1 L1127.4,671.1 L1127.8,669.1 L1128.1,667.2 L1128.5,665.2 L1128.9,663.2 L1129.2,661.3 L1129.6,659.3 L1129.9,657.3 L1130.3,655.4 L1130.7,653.4 L1131.0,651.4 L1131.4,649.4 L1131.8,647.5 L1132.2,645.5 L1132.6,643.6 L1133.1,641.6 L1133.5,639.6 L1133.9,637.7 L1134.4,635.7 L1134.8,633.8 L1135.3,631.8 L1135.8,629.9 L1136.2,627.9 L1136.7,626.0 L1137.1,624.0 L1137.6,622.1 L1138.1,620.1 L1138.6,618.2 L1139.0,616.2 L1139.5,614.3 L1140.0,612.3 L1140.5,610.4 L1141.0,608.5 L1141.5,606.5 L1142.0,604.6 L1142.5,602.6 L1143.0,600.7 L1143.6,598.8 L1144.1,596.8 L1144.6,594.9 L1145.2,593.0 L1145.7,591.1 L1146.3,589.1 L1146.9,587.2 L1147.5,585.3 L1148.1,583.4 L1148.7,581.5 L1149.3,579.6 L1149.9,577.7 L1150.6,575.8 L1151.2,573.9 L1151.9,572.0 L1152.6,570.1 L1153.3,568.2 L1154.0,566.3 L1154.7,564.5 L1155.4,562.6 L1156.1,560.7 L1156.9,558.9 L1157.6,557.0 L1158.4,555.2 L1159.2,553.3 L1159.9,551.5 L1160.7,549.6 L1161.5,547.8 L1162.3,546.0 L1163.2,544.1 L1164.0,542.3 L1164.9,540.5 L1165.8,538.7 L1166.8,537.0 L1167.8,535.2 L1168.8,533.5 L1169.9,531.9 L1171.1,530.2 L1172.3,528.6 L1173.5,527.0 L1174.8,525.5 L1176.2,524.0 L1177.6,522.7 L1179.2,521.4 L1180.8,520.3 L1182.6,519.4 L1184.4,518.8 L1186.4,518.3 L1188.3,518.1 L1190.3,518.1 L1192.3,518.2 L1194.3,518.5 L1196.3,519.0 L1198.2,519.5 L1200.1,520.1 L1201.9,520.9 L1203.8,521.7 L1205.5,522.6 L1207.2,523.6 L1208.9,524.8 L1210.5,526.0 L1212.0,527.2 L1213.5,528.6 L1215.0,529.9 L1216.5,531.3 L1217.9,532.7 L1219.3,534.1 L1220.7,535.6 L1222.1,537.0 L1223.5,538.4 L1225.0,539.8 L1226.4,541.2 L1227.9,542.6 L1229.3,544.0 L1230.7,545.4 L1232.1,546.8 L1233.5,548.2 L1235.0,549.7 L1236.4,551.1 L1237.8,552.5 L1239.2,554.0 L1240.6,555.4 L1242.0,556.8 L1243.4,558.2 L1244.9,559.6 L1246.3,561.0 L1247.7,562.4 L1249.2,563.8 L1250.7,565.1 L1252.2,566.5 L1253.7,567.8 L1255.2,569.1 L1256.7,570.4 L1258.2,571.8 L1259.7,573.1 L1261.2,574.4 L1262.7,575.8 L1264.2,577.1 L1265.6,578.5 L1267.1,579.8 L1268.5,581.2 L1270.0,582.6 L1271.4,584.0 L1272.8,585.4 L1274.3,586.8 L1275.7,588.2 L1277.1,589.7 L1278.5,591.1 L1279.9,592.5 L1281.3,593.9 L1282.8,595.4 L1284.2,596.8 L1285.6,598.2 L1287.0,599.6 L1288.4,601.1 L1289.8,602.5 L1290.5,603.2" fill="none" stroke="#e4720f" stroke-width="2.1" stroke-linecap="round" stroke-linejoin="round"/><path d="M1035.0,770.0 L1036.9,769.4 L1038.8,768.8 L1040.8,768.3 L1042.7,767.7 L1044.6,767.2 L1046.5,766.6 L1048.5,765.9 L1050.3,765.3 L1052.2,764.5 L1054.1,763.8 L1055.9,762.9 L1057.7,762.0 L1059.4,761.0 L1061.1,759.9 L1062.7,758.7 L1064.3,757.4 L1065.8,756.2 L1067.3,754.8 L1068.8,753.5 L1070.2,752.1 L1071.6,750.6 L1073.0,749.2 L1074.3,747.6 L1075.6,746.1 L1076.8,744.5 L1078.0,742.9 L1079.1,741.2 L1080.2,739.6 L1081.3,737.9 L1082.3,736.1 L1083.3,734.4 L1084.2,732.6 L1085.1,730.8 L1086.0,729.0 L1086.8,727.1 L1087.6,725.3 L1088.3,723.4 L1089.1,721.6 L1089.8,719.7 L1090.5,717.8 L1091.2,715.9 L1091.8,714.0 L1092.5,712.1 L1093.1,710.2 L1093.8,708.3 L1094.4,706.4 L1095.1,704.5 L1095.7,702.6 L1096.3,700.7 L1097.0,698.8 L1097.6,696.9 L1098.3,695.0 L1098.9,693.1 L1099.6,691.2 L1100.2,689.3 L1100.9,687.4 L1101.6,685.5 L1102.2,683.6 L1102.9,681.7 L1103.6,679.8 L1104.2,677.9 L1104.9,676.0 L1105.5,674.1 L1106.1,672.2 L1106.8,670.3 L1107.4,668.4 L1108.1,666.5 L1108.7,664.6 L1109.3,662.7 L1109.9,660.8 L1110.6,658.9 L1111.2,657.0 L1111.8,655.1 L1112.4,653.1 L1113.0,651.2 L1113.6,649.3 L1114.2,647.4 L1114.8,645.5 L1115.4,643.6 L1116.0,641.7 L1116.6,639.7 L1117.2,637.8 L1117.8,635.9 L1118.4,634.0 L1118.9,632.0 L1119.5,630.1 L1120.0,628.2 L1120.6,626.2 L1121.2,624.3 L1121.7,622.4 L1122.3,620.5 L1122.8,618.5 L1123.4,616.6 L1124.0,614.7 L1124.5,612.7 L1125.1,610.8 L1125.7,608.9 L1126.2,607.0 L1126.8,605.1 L1127.4,603.1 L1128.0,601.2 L1128.6,599.3 L1129.2,597.4 L1129.8,595.5 L1130.5,593.6 L1131.1,591.7 L1131.7,589.8 L1132.4,587.8 L1133.0,585.9 L1133.6,584.0 L1134.3,582.1 L1134.9,580.2 L1135.6,578.3 L1136.2,576.4 L1136.9,574.5 L1137.6,572.7 L1138.3,570.8 L1139.0,568.9 L1139.7,567.0 L1140.5,565.2 L1141.2,563.3 L1142.0,561.5 L1142.8,559.6 L1143.7,557.8 L1144.5,556.0 L1145.4,554.2 L1146.3,552.4 L1147.3,550.6 L1148.2,548.8 L1149.2,547.1 L1150.2,545.4 L1151.2,543.6 L1152.3,541.9 L1153.3,540.2 L1154.4,538.5 L1155.6,536.9 L1156.7,535.2 L1157.9,533.6 L1159.1,532.0 L1160.3,530.4 L1161.6,528.8 L1162.9,527.3 L1164.3,525.8 L1165.6,524.4 L1167.1,523.0 L1168.5,521.6 L1170.0,520.2 L1171.5,518.8 L1173.0,517.5 L1174.6,516.3 L1176.2,515.1 L1177.8,513.9 L1179.5,512.8 L1181.2,511.8 L1183.0,510.9 L1184.8,510.0 L1186.6,509.2 L1188.5,508.5 L1190.4,508.0 L1192.4,507.6 L1194.4,507.2 L1196.4,507.1 L1198.4,507.0 L1200.4,507.0 L1202.4,507.1 L1204.4,507.3 L1206.4,507.5 L1208.3,507.8 L1210.3,508.1 L1212.3,508.5 L1214.3,508.9 L1216.2,509.2 L1218.2,509.6 L1220.2,510.1 L1222.1,510.5 L1224.1,510.9 L1226.1,511.4 L1228.0,511.9 L1229.9,512.4 L1231.9,512.9 L1233.8,513.5 L1235.7,514.0 L1237.7,514.6 L1239.6,515.2 L1241.5,515.8 L1243.4,516.4 L1245.3,517.0 L1247.2,517.6 L1249.1,518.3 L1251.1,518.9 L1253.0,519.5 L1254.9,520.2 L1256.8,520.9 L1258.6,521.5 L1260.5,522.2 L1262.4,522.9 L1264.3,523.6 L1266.2,524.4 L1268.0,525.1 L1269.9,525.9 L1271.7,526.7 L1273.6,527.5 L1275.4,528.3 L1277.2,529.1 L1279.1,530.0 L1280.9,530.8 L1282.7,531.6 L1284.5,532.5 L1286.3,533.3 L1288.2,534.2 L1290.0,535.0 L1290.0,535.0" fill="none" stroke="#70ff10" stroke-width="2.1" stroke-linecap="round" stroke-linejoin="round"/><g fill="#8cff33" stroke="#84ff28" stroke-width="1"><circle cx="769.7" cy="733.0" r="7.4"/><circle cx="779.5" cy="731.0" r="7.4"/><circle cx="787.0" cy="736.0" r="7.4"/><circle cx="795.0" cy="741.3" r="7.4"/><circle cx="804.0" cy="744.0" r="7.4"/><circle cx="813.0" cy="747.0" r="7.4"/><circle cx="822.9" cy="752.7" r="7.4"/><circle cx="831.0" cy="755.0" r="7.4"/><circle cx="840.0" cy="756.8" r="7.4"/><circle cx="849.0" cy="756.0" r="7.4"/><circle cx="858.0" cy="757.0" r="7.4"/><circle cx="866.3" cy="758.9" r="7.4"/><circle cx="877.7" cy="766.1" r="7.4"/><circle cx="885.9" cy="759.9" r="7.4"/><circle cx="895.2" cy="768.2" r="7.4"/><circle cx="903.0" cy="767.0" r="7.4"/><circle cx="911.0" cy="766.1" r="7.4"/><circle cx="920.0" cy="770.0" r="7.4"/><circle cx="929.0" cy="773.0" r="7.4"/><circle cx="938.7" cy="774.4" r="7.4"/><circle cx="947.0" cy="774.0" r="7.4"/><circle cx="955.0" cy="774.4" r="7.4"/><circle cx="964.0" cy="773.0" r="7.4"/><circle cx="973.0" cy="775.0" r="7.4"/><circle cx="982.1" cy="778.5" r="7.4"/><circle cx="991.0" cy="776.0" r="7.4"/><circle cx="1000.0" cy="774.4" r="7.4"/><circle cx="1009.0" cy="774.4" r="7.4"/><circle cx="1018.0" cy="775.0" r="7.4"/><circle cx="1025.5" cy="776.4" r="7.4"/><circle cx="1034.1" cy="772.3" r="7.4"/><circle cx="1043.4" cy="769.2" r="7.4"/><circle cx="1052.7" cy="759.9" r="7.4"/><circle cx="1061.0" cy="757.8" r="7.4"/><circle cx="1070.3" cy="751.6" r="7.4"/><circle cx="1079.6" cy="738.2" r="7.4"/><circle cx="1087.9" cy="721.7" r="7.4"/><circle cx="1096.2" cy="701.0" r="7.4"/><circle cx="1105.5" cy="674.1" r="7.4"/><circle cx="1114.8" cy="650.3" r="7.4"/><circle cx="1123.0" cy="616.6" r="7.4"/><circle cx="1131.3" cy="589.7" r="7.4"/><circle cx="1140.6" cy="563.9" r="7.4"/><circle cx="1149.9" cy="549.4" r="7.4"/><circle cx="1158.2" cy="535.0" r="7.4"/><circle cx="1166.4" cy="523.6" r="7.4"/><circle cx="1174.7" cy="514.3" r="7.4"/><circle cx="1184.0" cy="509.1" r="7.4"/><circle cx="1193.3" cy="507.0" r="7.4"/><circle cx="1202.6" cy="506.0" r="7.4"/><circle cx="1211.9" cy="508.1" r="7.4"/><circle cx="1220.2" cy="509.1" r="7.4"/><circle cx="1229.5" cy="515.3" r="7.4"/><circle cx="1238.8" cy="516.3" r="7.4"/><circle cx="1248.1" cy="517.4" r="7.4"/><circle cx="1257.4" cy="520.5" r="7.4"/><circle cx="1265.7" cy="525.7" r="7.4"/><circle cx="1273.9" cy="529.8" r="7.4"/><circle cx="1282.2" cy="524.6" r="7.4"/><circle cx="1290.5" cy="536.0" r="7.4"/></g><text x="113.5" y="967.4" class="lg" fill="#2c3eb1" textLength="179.2" lengthAdjust="spacingAndGlyphs">PNPOx</text><text x="517.4" y="966.8" class="lg" fill="#d47b38" textLength="98.2" lengthAdjust="spacingAndGlyphs">RFK</text><text x="784.5" y="967.2" class="lg" fill="#6cba33" textLength="521.2" lengthAdjust="spacingAndGlyphs">PNPOx-RFK mixture</text></svg>
</body></html>
